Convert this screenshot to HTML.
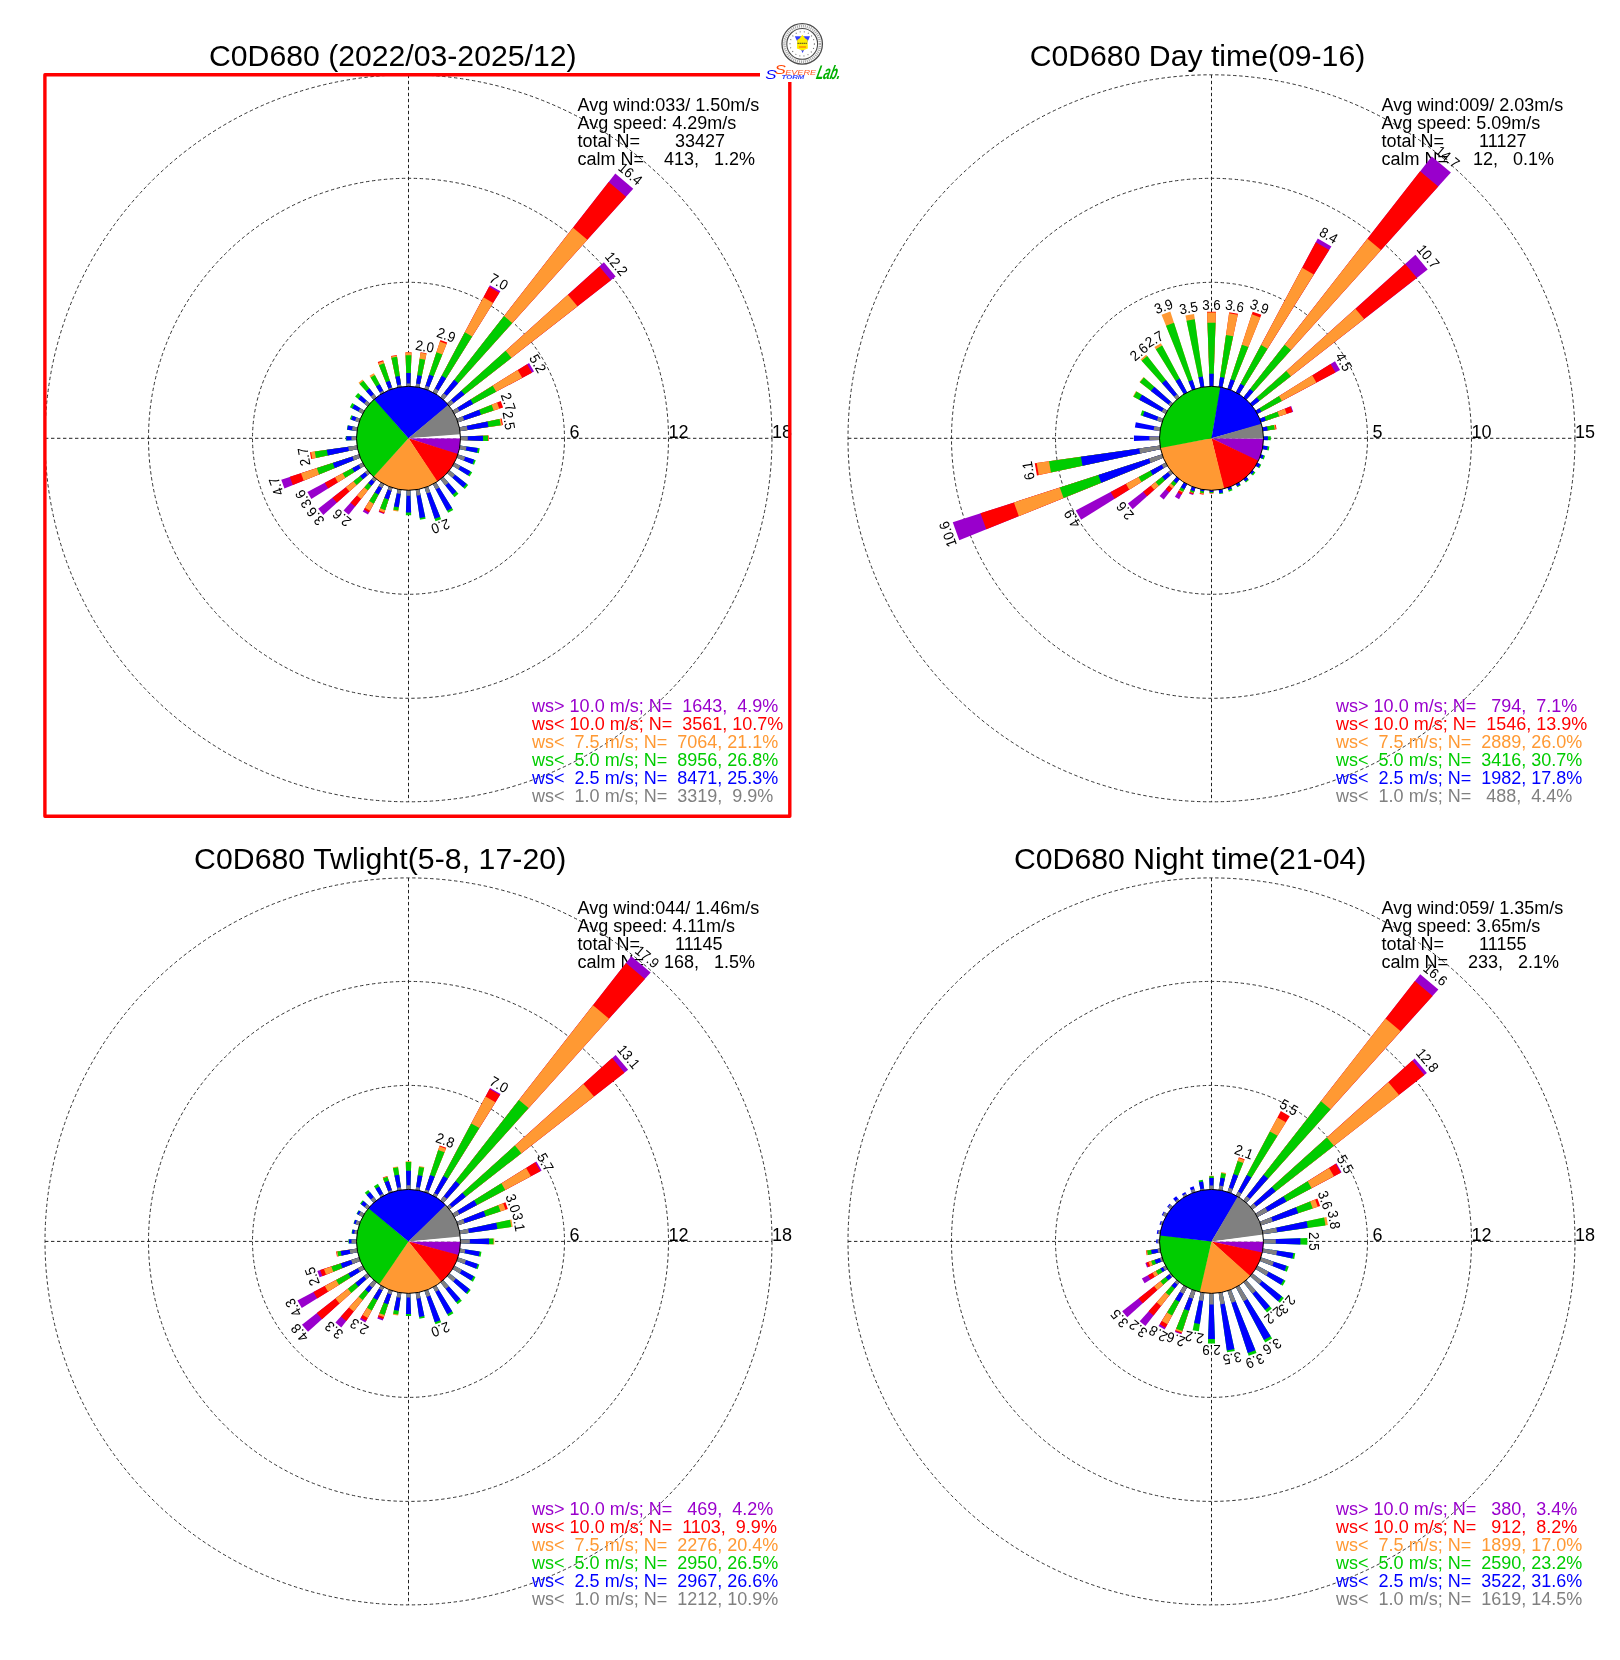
<!DOCTYPE html><html><head><meta charset="utf-8"><title>C0D680 wind rose</title><style>html,body{margin:0;padding:0;background:#fff;}svg{display:block;will-change:transform;}text{font-family:"Liberation Sans",Arial,Helvetica,sans-serif;white-space:pre;}</style></head><body>
<svg width="1620" height="1660" viewBox="0 0 1620 1660">
<rect width="1620" height="1660" fill="#fff"/>
<g><circle cx="408.5" cy="438.3" r="156" fill="none" stroke="#333" stroke-width="1" stroke-dasharray="3.4 2.6"/>
<circle cx="408.5" cy="438.3" r="260" fill="none" stroke="#333" stroke-width="1" stroke-dasharray="3.4 2.6"/>
<circle cx="408.5" cy="438.3" r="363.5" fill="none" stroke="#333" stroke-width="1" stroke-dasharray="3.4 2.6"/>
<path d="M45 438.3H772 M408.5 74.8V801.8" stroke="#222" stroke-width="1" stroke-dasharray="3.4 2.6" fill="none"/>
<text x="564.5" y="437.8" font-size="18"> 6</text>
<text x="668.5" y="437.8" font-size="18">12</text>
<text x="772" y="437.8" font-size="18">18</text>
<text x="577.5" y="110.8" font-size="18">Avg wind:033/ 1.50m/s</text>
<text x="577.5" y="128.7" font-size="18">Avg speed: 4.29m/s</text>
<text x="577.5" y="146.6" font-size="18">total N=       33427</text>
<text x="577.5" y="164.5" font-size="18">calm N=    413,   1.2%</text>
<path d="M406.7 386.83 405.49 352.21 411.51 352.21 410.3 386.83Z" fill="#ff0000"/>
<path d="M406.7 386.83 405.51 352.55 411.49 352.55 410.3 386.83Z" fill="#ff9933"/>
<path d="M406.7 386.83 405.6 355.25 411.4 355.25 410.3 386.83Z" fill="#00cc00"/>
<path d="M406.7 386.83 406.22 373.1 410.78 373.1 410.3 386.83Z" fill="#0000ff"/>
<path d="M406.7 386.83 406.58 383.44 410.42 383.44 410.3 386.83Z" fill="#808080"/>
<path d="M415.67 387.3 420.59 352.31 426.56 353.36 419.21 387.93Z" fill="#ff0000"/>
<path d="M415.67 387.3 420.51 352.82 426.45 353.87 419.21 387.93Z" fill="#ff9933"/>
<path d="M415.67 387.3 419.67 358.83 425.19 359.8 419.21 387.93Z" fill="#00cc00"/>
<path d="M415.67 387.3 417.38 375.13 421.76 375.91 419.21 387.93Z" fill="#0000ff"/>
<path d="M415.67 387.3 416.2 383.54 420 384.21 419.21 387.93Z" fill="#808080"/>
<path d="M424.41 389.32 440.42 340.05 447.2 342.52 427.79 390.55Z" fill="#ff0000"/>
<path d="M424.41 389.32 439.94 341.53 446.61 343.96 427.79 390.55Z" fill="#ff9933"/>
<path d="M424.41 389.32 436.46 352.25 442.39 354.41 427.79 390.55Z" fill="#00cc00"/>
<path d="M424.41 389.32 429.18 374.67 433.56 376.27 427.79 390.55Z" fill="#0000ff"/>
<path d="M424.41 389.32 425.59 385.71 429.21 387.03 427.79 390.55Z" fill="#808080"/>
<path d="M432.68 392.83 489.88 285.26 500.35 291.3 435.79 394.63Z" fill="#9900cc"/>
<path d="M432.68 392.83 489.06 286.79 499.43 292.77 435.79 394.63Z" fill="#ff0000"/>
<path d="M432.68 392.83 483.45 297.35 493.1 302.92 435.79 394.63Z" fill="#ff9933"/>
<path d="M432.68 392.83 464.89 332.24 472.15 336.43 435.79 394.63Z" fill="#00cc00"/>
<path d="M432.68 392.83 441.78 375.7 446.07 378.18 435.79 394.63Z" fill="#0000ff"/>
<path d="M432.68 392.83 435.03 388.41 438.44 390.38 435.79 394.63Z" fill="#808080"/>
<path d="M440.21 397.72 615.31 173.59 633.27 188.66 442.96 400.03Z" fill="#9900cc"/>
<path d="M440.21 397.72 608.7 182.06 626.08 196.65 442.96 400.03Z" fill="#ff0000"/>
<path d="M440.21 397.72 573.05 227.68 587.35 239.67 442.96 400.03Z" fill="#ff9933"/>
<path d="M440.21 397.72 504.01 316.05 512.3 323.01 442.96 400.03Z" fill="#00cc00"/>
<path d="M440.21 397.72 454.17 379.84 458.14 383.17 442.96 400.03Z" fill="#0000ff"/>
<path d="M440.21 397.72 443.72 393.23 446.77 395.79 442.96 400.03Z" fill="#808080"/>
<path d="M446.77 403.84 603.91 262.35 615.7 276.41 449.08 406.59Z" fill="#9900cc"/>
<path d="M446.77 403.84 599.4 266.41 610.92 280.15 449.08 406.59Z" fill="#ff0000"/>
<path d="M446.77 403.84 567.84 294.83 577.46 306.29 449.08 406.59Z" fill="#ff9933"/>
<path d="M446.77 403.84 505.62 350.85 511.49 357.84 449.08 406.59Z" fill="#00cc00"/>
<path d="M446.77 403.84 461.31 390.75 464.5 394.55 449.08 406.59Z" fill="#0000ff"/>
<path d="M446.77 403.84 451.14 399.91 453.71 402.98 449.08 406.59Z" fill="#808080"/>
<path d="M452.17 411.01 529.04 362.98 534 371.57 453.97 414.12Z" fill="#9900cc"/>
<path d="M452.17 411.01 527.12 364.17 532.01 372.63 453.97 414.12Z" fill="#ff0000"/>
<path d="M452.17 411.01 517.72 370.05 522.21 377.84 453.97 414.12Z" fill="#ff9933"/>
<path d="M452.17 411.01 492.73 385.67 496.19 391.67 453.97 414.12Z" fill="#00cc00"/>
<path d="M452.17 411.01 470.53 399.54 473.08 403.96 453.97 414.12Z" fill="#0000ff"/>
<path d="M452.17 411.01 457.45 407.71 459.46 411.2 453.97 414.12Z" fill="#808080"/>
<path d="M456.25 419.01 500.75 401.03 503.12 407.55 457.48 422.39Z" fill="#ff0000"/>
<path d="M456.25 419.01 497.05 402.52 499.33 408.79 457.48 422.39Z" fill="#ff9933"/>
<path d="M456.25 419.01 491.59 404.73 493.73 410.61 457.48 422.39Z" fill="#00cc00"/>
<path d="M456.25 419.01 479.21 409.73 481.03 414.73 457.48 422.39Z" fill="#0000ff"/>
<path d="M456.25 419.01 462.82 416.35 464.22 420.2 457.48 422.39Z" fill="#808080"/>
<path d="M458.87 427.59 501.75 418.48 502.91 425.03 459.5 431.13Z" fill="#ff0000"/>
<path d="M458.87 427.59 500.9 418.66 502.05 425.15 459.5 431.13Z" fill="#ff9933"/>
<path d="M458.87 427.59 499.55 418.95 500.67 425.35 459.5 431.13Z" fill="#00cc00"/>
<path d="M458.87 427.59 487.51 421.51 488.49 427.06 459.5 431.13Z" fill="#0000ff"/>
<path d="M458.87 427.59 466.82 425.9 467.55 430 459.5 431.13Z" fill="#808080"/>
<path d="M459.97 436.5 488.7 435.5 488.7 441.1 459.97 440.1Z" fill="#ff0000"/>
<path d="M459.97 436.5 488.36 435.51 488.36 441.09 459.97 440.1Z" fill="#ff9933"/>
<path d="M459.97 436.5 488.01 435.52 488.01 441.08 459.97 440.1Z" fill="#00cc00"/>
<path d="M459.97 436.5 482.99 435.7 482.99 440.9 459.97 440.1Z" fill="#0000ff"/>
<path d="M459.97 436.5 467.74 436.23 467.74 440.37 459.97 440.1Z" fill="#808080"/>
<path d="M459.5 445.47 479.73 448.31 478.86 453.26 458.87 449.01Z" fill="#00cc00"/>
<path d="M459.5 445.47 477.85 448.05 477 452.86 458.87 449.01Z" fill="#0000ff"/>
<path d="M459.5 445.47 466.52 446.45 465.81 450.48 458.87 449.01Z" fill="#808080"/>
<path d="M457.48 454.21 475.76 460.15 474.07 464.79 456.25 457.59Z" fill="#00cc00"/>
<path d="M457.48 454.21 474.11 459.62 472.46 464.14 456.25 457.59Z" fill="#0000ff"/>
<path d="M457.48 454.21 465.21 456.73 463.78 460.64 456.25 457.59Z" fill="#808080"/>
<path d="M453.97 462.48 472.17 472.15 469.65 476.51 452.17 465.59Z" fill="#00cc00"/>
<path d="M453.97 462.48 470.64 471.34 468.18 475.59 452.17 465.59Z" fill="#0000ff"/>
<path d="M453.97 462.48 460.38 465.89 458.33 469.44 452.17 465.59Z" fill="#808080"/>
<path d="M449.08 470.01 468.19 484.93 464.79 488.98 446.77 472.76Z" fill="#00cc00"/>
<path d="M449.08 470.01 466.55 483.65 463.25 487.59 446.77 472.76Z" fill="#0000ff"/>
<path d="M449.08 470.01 455.08 474.69 452.42 477.85 446.77 472.76Z" fill="#808080"/>
<path d="M442.96 476.57 458.49 493.82 454.49 497.17 440.21 478.88Z" fill="#00cc00"/>
<path d="M442.96 476.57 456.4 491.5 452.57 494.71 440.21 478.88Z" fill="#0000ff"/>
<path d="M442.96 476.57 448.51 482.74 445.32 485.42 440.21 478.88Z" fill="#808080"/>
<path d="M435.79 481.97 453.23 509.89 448.13 512.83 432.68 483.77Z" fill="#00cc00"/>
<path d="M435.79 481.97 452.04 507.98 447.07 510.84 432.68 483.77Z" fill="#0000ff"/>
<path d="M435.79 481.97 439.27 487.54 435.76 489.57 432.68 483.77Z" fill="#808080"/>
<path d="M427.79 486.05 441.16 519.14 435.44 521.22 424.41 487.28Z" fill="#00cc00"/>
<path d="M427.79 486.05 440.2 516.76 434.65 518.78 424.41 487.28Z" fill="#0000ff"/>
<path d="M427.79 486.05 430.28 492.22 426.47 493.61 424.41 487.28Z" fill="#808080"/>
<path d="M419.21 488.67 425.62 518.83 419.96 519.83 415.67 489.3Z" fill="#00cc00"/>
<path d="M419.21 488.67 425.22 516.97 419.69 517.94 415.67 489.3Z" fill="#0000ff"/>
<path d="M419.21 488.67 420.54 494.93 416.56 495.63 415.67 489.3Z" fill="#808080"/>
<path d="M410.3 489.77 411.19 515.21 405.81 515.21 406.7 489.77Z" fill="#00cc00"/>
<path d="M410.3 489.77 411.09 512.44 405.91 512.44 406.7 489.77Z" fill="#0000ff"/>
<path d="M410.3 489.77 410.51 495.81 406.49 495.81 406.7 489.77Z" fill="#808080"/>
<path d="M401.33 489.3 398.2 511.59 393.11 510.7 397.79 488.67Z" fill="#ff9933"/>
<path d="M401.33 489.3 398.34 510.56 393.33 509.68 397.79 488.67Z" fill="#00cc00"/>
<path d="M401.33 489.3 398.8 507.3 394.01 506.46 397.79 488.67Z" fill="#0000ff"/>
<path d="M401.33 489.3 400.68 493.91 396.82 493.23 397.79 488.67Z" fill="#808080"/>
<path d="M392.59 487.28 383.91 513.97 378.7 512.07 389.21 486.05Z" fill="#9900cc"/>
<path d="M392.59 487.28 384.08 513.47 378.89 511.58 389.21 486.05Z" fill="#ff0000"/>
<path d="M392.59 487.28 384.4 512.48 379.28 510.62 389.21 486.05Z" fill="#ff9933"/>
<path d="M392.59 487.28 385.15 510.17 380.19 508.37 389.21 486.05Z" fill="#00cc00"/>
<path d="M392.59 487.28 388.63 499.46 384.41 497.92 389.21 486.05Z" fill="#0000ff"/>
<path d="M392.59 487.28 391.41 490.89 387.79 489.57 389.21 486.05Z" fill="#808080"/>
<path d="M384.32 483.77 367.98 514.52 362.76 511.5 381.21 481.97Z" fill="#9900cc"/>
<path d="M384.32 483.77 369.03 512.53 363.95 509.59 381.21 481.97Z" fill="#ff0000"/>
<path d="M384.32 483.77 370.01 510.69 365.05 507.83 381.21 481.97Z" fill="#ff9933"/>
<path d="M384.32 483.77 373.75 503.65 369.28 501.07 381.21 481.97Z" fill="#00cc00"/>
<path d="M384.32 483.77 378.55 494.62 374.7 492.39 381.21 481.97Z" fill="#0000ff"/>
<path d="M384.32 483.77 382.05 488.04 378.65 486.07 381.21 481.97Z" fill="#808080"/>
<path d="M376.79 478.88 348.74 514.79 343.55 510.43 374.04 476.57Z" fill="#9900cc"/>
<path d="M376.79 478.88 355.14 506.59 350.51 502.71 374.04 476.57Z" fill="#ff0000"/>
<path d="M376.79 478.88 361.12 498.95 357 495.49 374.04 476.57Z" fill="#ff9933"/>
<path d="M376.79 478.88 367.84 490.34 364.31 487.38 374.04 476.57Z" fill="#00cc00"/>
<path d="M376.79 478.88 371.47 485.7 368.25 483 374.04 476.57Z" fill="#0000ff"/>
<path d="M376.79 478.88 374.46 481.87 371.5 479.39 374.04 476.57Z" fill="#808080"/>
<path d="M370.23 472.76 323.36 514.96 318.21 508.84 367.92 470.01Z" fill="#9900cc"/>
<path d="M370.23 472.76 336.88 502.79 332.56 497.63 367.92 470.01Z" fill="#ff0000"/>
<path d="M370.23 472.76 349.5 491.42 345.94 487.18 367.92 470.01Z" fill="#ff9933"/>
<path d="M370.23 472.76 356.59 485.04 353.45 481.31 367.92 470.01Z" fill="#00cc00"/>
<path d="M370.23 472.76 362.9 479.36 360.15 476.08 367.92 470.01Z" fill="#0000ff"/>
<path d="M370.23 472.76 367.41 475.3 364.93 472.34 367.92 470.01Z" fill="#808080"/>
<path d="M364.83 465.59 311.34 499.01 307.34 492.09 363.03 462.48Z" fill="#9900cc"/>
<path d="M364.83 465.59 328.09 488.54 324.78 482.81 363.03 462.48Z" fill="#ff0000"/>
<path d="M364.83 465.59 337.94 482.39 335.04 477.36 363.03 462.48Z" fill="#ff9933"/>
<path d="M364.83 465.59 345.29 477.8 342.69 473.29 363.03 462.48Z" fill="#00cc00"/>
<path d="M364.83 465.59 354.41 472.1 352.18 468.25 363.03 462.48Z" fill="#0000ff"/>
<path d="M364.83 465.59 360.73 468.15 358.76 464.75 363.03 462.48Z" fill="#808080"/>
<path d="M360.75 457.59 284.43 488.43 281.24 479.65 359.52 454.21Z" fill="#9900cc"/>
<path d="M360.75 457.59 292.79 485.05 289.81 476.87 359.52 454.21Z" fill="#ff0000"/>
<path d="M360.75 457.59 303.72 480.64 301.02 473.22 359.52 454.21Z" fill="#ff9933"/>
<path d="M360.75 457.59 319.14 474.4 316.84 468.08 359.52 454.21Z" fill="#00cc00"/>
<path d="M360.75 457.59 334.73 468.1 332.83 462.89 359.52 454.21Z" fill="#0000ff"/>
<path d="M360.75 457.59 353.86 460.38 352.45 456.51 359.52 454.21Z" fill="#808080"/>
<path d="M358.13 449.01 311.18 458.99 309.97 452.15 357.5 445.47Z" fill="#ff0000"/>
<path d="M358.13 449.01 312.2 458.77 311 452 357.5 445.47Z" fill="#ff9933"/>
<path d="M358.13 449.01 315.93 457.98 314.78 451.47 357.5 445.47Z" fill="#00cc00"/>
<path d="M358.13 449.01 327.8 455.45 326.8 449.78 357.5 445.47Z" fill="#0000ff"/>
<path d="M358.13 449.01 348.99 450.95 348.25 446.77 357.5 445.47Z" fill="#808080"/>
<path d="M357.03 440.1 345.79 440.49 345.79 436.11 357.03 436.5Z" fill="#00cc00"/>
<path d="M357.03 440.1 346.31 440.47 346.31 436.13 357.03 436.5Z" fill="#0000ff"/>
<path d="M357.03 440.1 351.51 440.29 351.51 436.31 357.03 436.5Z" fill="#808080"/>
<path d="M357.5 431.13 346.88 429.64 347.63 425.36 358.13 427.59Z" fill="#00cc00"/>
<path d="M357.5 431.13 347.22 429.69 347.97 425.43 358.13 427.59Z" fill="#0000ff"/>
<path d="M357.5 431.13 352.03 430.36 352.72 426.44 358.13 427.59Z" fill="#808080"/>
<path d="M359.52 422.39 349.81 419.23 351.29 415.18 360.75 419.01Z" fill="#00cc00"/>
<path d="M359.52 422.39 351.13 419.66 352.57 415.7 360.75 419.01Z" fill="#0000ff"/>
<path d="M359.52 422.39 355.09 420.95 356.43 417.26 360.75 419.01Z" fill="#808080"/>
<path d="M363.03 414.12 349.88 407.13 352.2 403.12 364.83 411.01Z" fill="#00cc00"/>
<path d="M363.03 414.12 352.18 408.35 354.41 404.5 364.83 411.01Z" fill="#0000ff"/>
<path d="M363.03 414.12 358.3 411.61 360.29 408.17 364.83 411.01Z" fill="#808080"/>
<path d="M367.92 406.59 355.09 396.57 358.13 392.95 370.23 403.84Z" fill="#00cc00"/>
<path d="M367.92 406.59 358.24 399.03 361.1 395.62 370.23 403.84Z" fill="#0000ff"/>
<path d="M367.92 406.59 364.11 403.62 366.64 400.61 370.23 403.84Z" fill="#808080"/>
<path d="M374.04 400.03 358.51 382.78 362.51 379.43 376.79 397.72Z" fill="#ff9933"/>
<path d="M374.04 400.03 359.56 383.94 363.47 380.66 376.79 397.72Z" fill="#00cc00"/>
<path d="M374.04 400.03 366.05 391.15 369.44 388.31 376.79 397.72Z" fill="#0000ff"/>
<path d="M374.04 400.03 370.92 396.56 373.92 394.05 376.79 397.72Z" fill="#808080"/>
<path d="M381.21 394.63 369.46 375.83 373.92 373.26 384.32 392.83Z" fill="#ff9933"/>
<path d="M381.21 394.63 370.56 377.59 374.89 375.09 384.32 392.83Z" fill="#00cc00"/>
<path d="M381.21 394.63 376.08 386.41 379.77 384.28 384.32 392.83Z" fill="#0000ff"/>
<path d="M381.21 394.63 379.84 392.44 383.11 390.55 384.32 392.83Z" fill="#808080"/>
<path d="M389.21 390.55 377.72 362.12 383.11 360.16 392.59 389.32Z" fill="#ff0000"/>
<path d="M389.21 390.55 378.11 363.09 383.43 361.15 392.59 389.32Z" fill="#ff9933"/>
<path d="M389.21 390.55 378.96 365.18 384.13 363.29 392.59 389.32Z" fill="#00cc00"/>
<path d="M389.21 390.55 385.84 382.21 389.81 380.77 392.59 389.32Z" fill="#0000ff"/>
<path d="M389.21 390.55 388.44 388.64 391.95 387.36 392.59 389.32Z" fill="#808080"/>
<path d="M397.79 387.93 390.99 355.9 396.78 354.88 401.33 387.3Z" fill="#ff0000"/>
<path d="M397.79 387.93 391.13 356.58 396.87 355.57 401.33 387.3Z" fill="#ff9933"/>
<path d="M397.79 387.93 391.38 357.77 397.04 356.77 401.33 387.3Z" fill="#00cc00"/>
<path d="M397.79 387.93 395.42 376.75 399.74 375.99 401.33 387.3Z" fill="#0000ff"/>
<path d="M397.79 387.93 397.22 385.23 400.95 384.57 401.33 387.3Z" fill="#808080"/>
<path d="M408.5 438.3L460.5 438.3A52 52 0 0 1 457.81 454.8Z" fill="#9900cc"/>
<path d="M408.5 438.3L458.04 454.11A52 52 0 0 1 436.94 481.83Z" fill="#ff0000"/>
<path d="M408.5 438.3L437.54 481.43A52 52 0 0 1 373.09 476.38Z" fill="#ff9933"/>
<path d="M408.5 438.3L373.62 476.87A52 52 0 0 1 374.64 398.83Z" fill="#00cc00"/>
<path d="M408.5 438.3L374.1 399.31A52 52 0 0 1 448.69 405.3Z" fill="#0000ff"/>
<path d="M408.5 438.3L448.22 404.74A52 52 0 0 1 460.39 434.99Z" fill="#808080"/>
<path d="M408.5 438.3L460.34 434.27A52 52 0 0 1 460.5 438.3Z" fill="#ffffff"/>
<circle cx="408.5" cy="438.3" r="52" fill="none" stroke="#000" stroke-width="1"/>
<text transform="translate(423.85 351.25) rotate(10) scale(0.93 1)" text-anchor="middle" font-size="14.4">2.0</text>
<text transform="translate(444.43 339.59) rotate(20) scale(0.93 1)" text-anchor="middle" font-size="14.4">2.9</text>
<text transform="translate(496.42 286.02) rotate(30) scale(0.93 1)" text-anchor="middle" font-size="14.4">7.0</text>
<text transform="translate(627.19 177.68) rotate(40) scale(0.93 1)" text-anchor="middle" font-size="14.4">16.4</text>
<text transform="translate(612.6 267.04) rotate(50) scale(0.93 1)" text-anchor="middle" font-size="14.4">12.2</text>
<text transform="translate(533.46 366.15) rotate(60) scale(0.93 1)" text-anchor="middle" font-size="14.4">5.2</text>
<text transform="translate(503.59 403.69) rotate(70) scale(0.93 1)" text-anchor="middle" font-size="14.4">2.7</text>
<text transform="translate(504.01 421.46) rotate(80) scale(0.93 1)" text-anchor="middle" font-size="14.4">2.5</text>
<text transform="translate(438.85 521.69) rotate(160) scale(0.93 1)" text-anchor="middle" font-size="14.4">2.0</text>
<text transform="translate(345.03 513.93) rotate(220) scale(0.93 1)" text-anchor="middle" font-size="14.4">2.6</text>
<text transform="translate(319.31 513.14) rotate(230) scale(0.93 1)" text-anchor="middle" font-size="14.4">3.6</text>
<text transform="translate(307.67 496.52) rotate(240) scale(0.93 1)" text-anchor="middle" font-size="14.4">3.6</text>
<text transform="translate(280.81 484.78) rotate(250) scale(0.93 1)" text-anchor="middle" font-size="14.4">4.7</text>
<text transform="translate(308.85 455.87) rotate(260) scale(0.93 1)" text-anchor="middle" font-size="14.4">2.7</text>
<text x="532.1" y="711.6" font-size="18" fill="#9900cc">ws&gt; 10.0 m/s; N=  1643,  4.9%</text>
<text x="532.1" y="729.58" font-size="18" fill="#ff0000">ws&lt; 10.0 m/s; N=  3561, 10.7%</text>
<text x="532.1" y="747.56" font-size="18" fill="#ff9933">ws&lt;  7.5 m/s; N=  7064, 21.1%</text>
<text x="532.1" y="765.54" font-size="18" fill="#00cc00">ws&lt;  5.0 m/s; N=  8956, 26.8%</text>
<text x="532.1" y="783.52" font-size="18" fill="#0000ff">ws&lt;  2.5 m/s; N=  8471, 25.3%</text>
<text x="532.1" y="801.5" font-size="18" fill="#808080">ws&lt;  1.0 m/s; N=  3319,  9.9%</text>
<text x="209" y="65.8" font-size="30.2">C0D680 (2022/03-2025/12)</text></g>
<g><circle cx="1211.5" cy="438.3" r="156" fill="none" stroke="#333" stroke-width="1" stroke-dasharray="3.4 2.6"/>
<circle cx="1211.5" cy="438.3" r="260" fill="none" stroke="#333" stroke-width="1" stroke-dasharray="3.4 2.6"/>
<circle cx="1211.5" cy="438.3" r="363.5" fill="none" stroke="#333" stroke-width="1" stroke-dasharray="3.4 2.6"/>
<path d="M848 438.3H1575 M1211.5 74.8V801.8" stroke="#222" stroke-width="1" stroke-dasharray="3.4 2.6" fill="none"/>
<text x="1367.5" y="437.8" font-size="18"> 5</text>
<text x="1471.5" y="437.8" font-size="18">10</text>
<text x="1575" y="437.8" font-size="18">15</text>
<text x="1381.5" y="110.8" font-size="18">Avg wind:009/ 2.03m/s</text>
<text x="1381.5" y="128.7" font-size="18">Avg speed: 5.09m/s</text>
<text x="1381.5" y="146.6" font-size="18">total N=       11127</text>
<text x="1381.5" y="164.5" font-size="18">calm N=     12,   0.1%</text>
<path d="M1209.7 386.83 1207.08 311.71 1215.92 311.71 1213.3 386.83Z" fill="#ff0000"/>
<path d="M1209.7 386.83 1207.11 312.54 1215.89 312.54 1213.3 386.83Z" fill="#ff9933"/>
<path d="M1209.7 386.83 1207.46 322.72 1215.54 322.72 1213.3 386.83Z" fill="#00cc00"/>
<path d="M1209.7 386.83 1209.24 373.65 1213.76 373.65 1213.3 386.83Z" fill="#0000ff"/>
<path d="M1218.67 387.3 1229.22 312.24 1237.97 313.79 1222.21 387.93Z" fill="#ff0000"/>
<path d="M1218.67 387.3 1229.07 313.27 1237.75 314.8 1222.21 387.93Z" fill="#ff9933"/>
<path d="M1218.67 387.3 1226 335.11 1233.17 336.37 1222.21 387.93Z" fill="#00cc00"/>
<path d="M1218.67 387.3 1220.13 376.92 1224.39 377.67 1222.21 387.93Z" fill="#0000ff"/>
<path d="M1227.41 389.32 1252.64 311.7 1261.37 314.87 1230.79 390.55Z" fill="#ff0000"/>
<path d="M1227.41 389.32 1251.8 314.27 1260.35 317.38 1230.79 390.55Z" fill="#ff9933"/>
<path d="M1227.41 389.32 1241.9 344.73 1248.36 347.08 1230.79 390.55Z" fill="#00cc00"/>
<path d="M1227.41 389.32 1230.65 379.35 1234.72 380.83 1230.79 390.55Z" fill="#0000ff"/>
<path d="M1235.68 392.83 1317.74 238.49 1331.42 246.38 1238.79 394.63Z" fill="#9900cc"/>
<path d="M1235.68 392.83 1315.79 242.16 1329.22 249.91 1238.79 394.63Z" fill="#ff0000"/>
<path d="M1235.68 392.83 1302.12 267.87 1313.79 274.61 1238.79 394.63Z" fill="#ff9933"/>
<path d="M1235.68 392.83 1261.11 345 1267.49 348.69 1238.79 394.63Z" fill="#00cc00"/>
<path d="M1235.68 392.83 1240.5 383.76 1244.24 385.91 1238.79 394.63Z" fill="#0000ff"/>
<path d="M1243.21 397.72 1431.76 156.38 1450.89 172.43 1245.96 400.03Z" fill="#9900cc"/>
<path d="M1243.21 397.72 1420.11 171.3 1438.22 186.5 1245.96 400.03Z" fill="#ff0000"/>
<path d="M1243.21 397.72 1367.47 238.66 1381.02 250.03 1245.96 400.03Z" fill="#ff9933"/>
<path d="M1243.21 397.72 1284.62 344.71 1290.97 350.04 1245.96 400.03Z" fill="#00cc00"/>
<path d="M1243.21 397.72 1250.05 388.96 1253.39 391.77 1245.96 400.03Z" fill="#0000ff"/>
<path d="M1249.77 403.84 1415.38 254.72 1427.69 269.39 1252.08 406.59Z" fill="#9900cc"/>
<path d="M1249.77 403.84 1405.18 263.91 1416.87 277.84 1252.08 406.59Z" fill="#ff0000"/>
<path d="M1249.77 403.84 1355.41 308.72 1364.1 319.08 1252.08 406.59Z" fill="#ff9933"/>
<path d="M1249.77 403.84 1286.31 370.94 1290.83 376.32 1252.08 406.59Z" fill="#00cc00"/>
<path d="M1249.77 403.84 1256.79 397.52 1259.52 400.78 1252.08 406.59Z" fill="#0000ff"/>
<path d="M1255.17 411.01 1334.98 361.14 1340.06 369.94 1256.97 414.12Z" fill="#9900cc"/>
<path d="M1255.17 411.01 1330.57 363.9 1335.47 372.39 1256.97 414.12Z" fill="#ff0000"/>
<path d="M1255.17 411.01 1312.22 375.36 1316.37 382.54 1256.97 414.12Z" fill="#ff9933"/>
<path d="M1255.17 411.01 1279.06 396.08 1281.84 400.9 1256.97 414.12Z" fill="#00cc00"/>
<path d="M1255.17 411.01 1259.48 408.32 1261.45 411.74 1256.97 414.12Z" fill="#0000ff"/>
<path d="M1259.25 419.01 1291.15 406.12 1293.2 411.75 1260.48 422.39Z" fill="#9900cc"/>
<path d="M1259.25 419.01 1290.38 406.43 1292.41 412.01 1260.48 422.39Z" fill="#ff0000"/>
<path d="M1259.25 419.01 1284.78 408.69 1286.67 413.88 1260.48 422.39Z" fill="#ff9933"/>
<path d="M1259.25 419.01 1277.46 411.65 1279.15 416.32 1260.48 422.39Z" fill="#00cc00"/>
<path d="M1259.25 419.01 1264.53 416.87 1265.9 420.62 1260.48 422.39Z" fill="#0000ff"/>
<path d="M1261.87 427.59 1275.79 424.63 1276.59 429.15 1262.5 431.13Z" fill="#ff0000"/>
<path d="M1261.87 427.59 1274.98 424.81 1275.76 429.27 1262.5 431.13Z" fill="#ff9933"/>
<path d="M1261.87 427.59 1273.96 425.02 1274.73 429.41 1262.5 431.13Z" fill="#00cc00"/>
<path d="M1261.87 427.59 1267.04 426.49 1267.73 430.4 1262.5 431.13Z" fill="#0000ff"/>
<path d="M1262.97 436.5 1270.74 436.23 1270.74 440.37 1262.97 440.1Z" fill="#00cc00"/>
<path d="M1262.97 436.5 1267.83 436.33 1267.83 440.27 1262.97 440.1Z" fill="#0000ff"/>
<path d="M1262.5 445.47 1269.38 446.43 1268.67 450.45 1261.87 449.01Z" fill="#00cc00"/>
<path d="M1262.5 445.47 1267.73 446.2 1267.04 450.11 1261.87 449.01Z" fill="#0000ff"/>
<path d="M1260.48 454.21 1265.11 455.72 1263.76 459.42 1259.25 457.59Z" fill="#00cc00"/>
<path d="M1260.48 454.21 1263.72 455.27 1262.41 458.87 1259.25 457.59Z" fill="#0000ff"/>
<path d="M1256.97 462.48 1261.27 464.76 1259.3 468.17 1255.17 465.59Z" fill="#00cc00"/>
<path d="M1256.97 462.48 1260.35 464.27 1258.42 467.62 1255.17 465.59Z" fill="#0000ff"/>
<path d="M1252.08 470.01 1255.43 472.62 1252.93 475.6 1249.77 472.76Z" fill="#00cc00"/>
<path d="M1252.08 470.01 1254.12 471.59 1251.69 474.49 1249.77 472.76Z" fill="#0000ff"/>
<path d="M1245.96 476.57 1248.94 479.88 1245.95 482.39 1243.21 478.88Z" fill="#00cc00"/>
<path d="M1245.96 476.57 1248.24 479.11 1245.31 481.57 1243.21 478.88Z" fill="#0000ff"/>
<path d="M1238.79 481.97 1240.82 485.22 1237.47 487.15 1235.68 483.77Z" fill="#00cc00"/>
<path d="M1238.79 481.97 1240.38 484.52 1237.08 486.42 1235.68 483.77Z" fill="#0000ff"/>
<path d="M1230.79 486.05 1232.54 490.37 1228.85 491.71 1227.41 487.28Z" fill="#00cc00"/>
<path d="M1230.79 486.05 1231.84 488.63 1228.28 489.93 1227.41 487.28Z" fill="#0000ff"/>
<path d="M1222.21 488.67 1223.22 493.44 1219.34 494.12 1218.67 489.3Z" fill="#00cc00"/>
<path d="M1222.21 488.67 1223.05 492.62 1219.23 493.3 1218.67 489.3Z" fill="#0000ff"/>
<path d="M1213.3 489.77 1213.43 493.59 1209.57 493.59 1209.7 489.77Z" fill="#ff0000"/>
<path d="M1213.3 489.77 1213.42 493.18 1209.58 493.18 1209.7 489.77Z" fill="#ff9933"/>
<path d="M1213.3 489.77 1213.41 492.97 1209.59 492.97 1209.7 489.77Z" fill="#00cc00"/>
<path d="M1213.3 489.77 1213.37 491.93 1209.63 491.93 1209.7 489.77Z" fill="#0000ff"/>
<path d="M1204.33 489.3 1203.57 494.74 1199.65 494.05 1200.79 488.67Z" fill="#ff0000"/>
<path d="M1204.33 489.3 1203.68 493.91 1199.82 493.23 1200.79 488.67Z" fill="#ff9933"/>
<path d="M1204.33 489.3 1203.77 493.3 1199.95 492.62 1200.79 488.67Z" fill="#00cc00"/>
<path d="M1204.33 489.3 1204.03 491.44 1200.34 490.79 1200.79 488.67Z" fill="#0000ff"/>
<path d="M1195.59 487.28 1193.05 495.07 1189.14 493.65 1192.21 486.05Z" fill="#9900cc"/>
<path d="M1195.59 487.28 1193.31 494.28 1189.45 492.88 1192.21 486.05Z" fill="#ff0000"/>
<path d="M1195.59 487.28 1193.63 493.29 1189.84 491.91 1192.21 486.05Z" fill="#ff9933"/>
<path d="M1195.59 487.28 1193.76 492.9 1189.99 491.53 1192.21 486.05Z" fill="#00cc00"/>
<path d="M1195.59 487.28 1194.27 491.32 1190.62 489.98 1192.21 486.05Z" fill="#0000ff"/>
<path d="M1187.32 483.77 1179.08 499.27 1174.91 496.86 1184.21 481.97Z" fill="#9900cc"/>
<path d="M1187.32 483.77 1181.52 494.68 1177.66 492.45 1184.21 481.97Z" fill="#ff0000"/>
<path d="M1187.32 483.77 1182.6 492.66 1178.87 490.51 1184.21 481.97Z" fill="#ff9933"/>
<path d="M1187.32 483.77 1183.08 491.74 1179.43 489.63 1184.21 481.97Z" fill="#00cc00"/>
<path d="M1187.32 483.77 1184.35 489.36 1180.86 487.34 1184.21 481.97Z" fill="#0000ff"/>
<path d="M1179.79 478.88 1163.73 499.44 1159.59 495.96 1177.04 476.57Z" fill="#9900cc"/>
<path d="M1179.79 478.88 1169.37 492.23 1165.71 489.15 1177.04 476.57Z" fill="#ff0000"/>
<path d="M1179.79 478.88 1172.31 488.46 1168.91 485.6 1177.04 476.57Z" fill="#ff9933"/>
<path d="M1179.79 478.88 1174.11 486.16 1170.86 483.44 1177.04 476.57Z" fill="#00cc00"/>
<path d="M1179.79 478.88 1176.41 483.21 1173.36 480.65 1177.04 476.57Z" fill="#0000ff"/>
<path d="M1173.23 472.76 1132.67 509.28 1127.91 503.61 1170.92 470.01Z" fill="#9900cc"/>
<path d="M1173.23 472.76 1147.04 496.34 1143.15 491.7 1170.92 470.01Z" fill="#ff0000"/>
<path d="M1173.23 472.76 1154.31 489.8 1150.85 485.68 1170.92 470.01Z" fill="#ff9933"/>
<path d="M1173.23 472.76 1158.79 485.76 1155.61 481.97 1170.92 470.01Z" fill="#00cc00"/>
<path d="M1173.23 472.76 1164.97 480.19 1162.16 476.85 1170.92 470.01Z" fill="#0000ff"/>
<path d="M1173.23 472.76 1170.38 475.32 1167.9 472.36 1170.92 470.01Z" fill="#808080"/>
<path d="M1167.83 465.59 1081.14 519.75 1075.78 510.46 1166.03 462.48Z" fill="#9900cc"/>
<path d="M1167.83 465.59 1114.66 498.81 1110.67 491.91 1166.03 462.48Z" fill="#ff0000"/>
<path d="M1167.83 465.59 1129.3 489.66 1125.92 483.8 1166.03 462.48Z" fill="#ff9933"/>
<path d="M1167.83 465.59 1141.47 482.06 1138.59 477.07 1166.03 462.48Z" fill="#00cc00"/>
<path d="M1167.83 465.59 1152.76 475 1150.34 470.82 1166.03 462.48Z" fill="#0000ff"/>
<path d="M1167.83 465.59 1163.7 468.17 1161.73 464.76 1166.03 462.48Z" fill="#808080"/>
<path d="M1163.75 457.59 959.25 540.22 952.75 522.37 1162.52 454.21Z" fill="#9900cc"/>
<path d="M1163.75 457.59 986.25 529.31 980.45 513.37 1162.52 454.21Z" fill="#ff0000"/>
<path d="M1163.75 457.59 1018.84 516.14 1013.88 502.51 1162.52 454.21Z" fill="#ff9933"/>
<path d="M1163.75 457.59 1063.58 498.06 1059.77 487.6 1162.52 454.21Z" fill="#00cc00"/>
<path d="M1163.75 457.59 1101.19 482.87 1098.35 475.07 1162.52 454.21Z" fill="#0000ff"/>
<path d="M1163.75 457.59 1150.56 462.92 1148.99 458.61 1162.52 454.21Z" fill="#808080"/>
<path d="M1161.13 449.01 1036.94 475.4 1034.77 463.14 1160.5 445.47Z" fill="#ff0000"/>
<path d="M1161.13 449.01 1038.77 475.02 1036.63 462.88 1160.5 445.47Z" fill="#ff9933"/>
<path d="M1161.13 449.01 1050.97 472.42 1048.99 461.14 1160.5 445.47Z" fill="#00cc00"/>
<path d="M1161.13 449.01 1082.51 465.72 1080.91 456.65 1160.5 445.47Z" fill="#0000ff"/>
<path d="M1161.13 449.01 1140.09 453.48 1139.2 448.46 1160.5 445.47Z" fill="#808080"/>
<path d="M1160.03 440.1 1133.96 441.01 1133.96 435.59 1160.03 436.5Z" fill="#0000ff"/>
<path d="M1160.03 440.1 1149.35 440.47 1149.35 436.13 1160.03 436.5Z" fill="#808080"/>
<path d="M1160.5 431.13 1134.88 427.53 1135.81 422.21 1161.13 427.59Z" fill="#0000ff"/>
<path d="M1160.5 431.13 1153.62 430.17 1154.33 426.15 1161.13 427.59Z" fill="#808080"/>
<path d="M1162.52 422.39 1140.48 415.23 1142.27 410.33 1163.75 419.01Z" fill="#00cc00"/>
<path d="M1162.52 422.39 1142.86 416 1144.58 411.26 1163.75 419.01Z" fill="#0000ff"/>
<path d="M1162.52 422.39 1156.9 420.56 1158.27 416.79 1163.75 419.01Z" fill="#808080"/>
<path d="M1166.03 414.12 1132.9 396.51 1136 391.12 1167.83 411.01Z" fill="#ff9933"/>
<path d="M1166.03 414.12 1133.45 396.8 1136.53 391.46 1167.83 411.01Z" fill="#00cc00"/>
<path d="M1166.03 414.12 1139.14 399.83 1142 394.87 1167.83 411.01Z" fill="#0000ff"/>
<path d="M1166.03 414.12 1161.73 411.84 1163.7 408.43 1167.83 411.01Z" fill="#808080"/>
<path d="M1170.92 406.59 1139.38 381.95 1143.49 377.06 1173.23 403.84Z" fill="#ff9933"/>
<path d="M1170.92 406.59 1139.87 382.34 1143.95 377.48 1173.23 403.84Z" fill="#00cc00"/>
<path d="M1170.92 406.59 1150.85 390.92 1154.31 386.8 1173.23 403.84Z" fill="#0000ff"/>
<path d="M1170.92 406.59 1168.39 404.62 1170.85 401.7 1173.23 403.84Z" fill="#808080"/>
<path d="M1177.04 400.03 1140.52 359.47 1146.19 354.71 1179.79 397.72Z" fill="#ff9933"/>
<path d="M1177.04 400.03 1141.63 360.7 1147.22 356.02 1179.79 397.72Z" fill="#00cc00"/>
<path d="M1177.04 400.03 1161.95 383.27 1165.91 379.95 1179.79 397.72Z" fill="#0000ff"/>
<path d="M1177.04 400.03 1174.06 396.72 1177.05 394.21 1179.79 397.72Z" fill="#808080"/>
<path d="M1184.21 394.63 1154.4 346.93 1160.92 343.17 1187.32 392.83Z" fill="#ff9933"/>
<path d="M1184.21 394.63 1155.84 349.22 1162.19 345.56 1187.32 392.83Z" fill="#00cc00"/>
<path d="M1184.21 394.63 1175.68 380.97 1179.76 378.61 1187.32 392.83Z" fill="#0000ff"/>
<path d="M1192.21 390.55 1161.55 314.68 1170.3 311.5 1195.59 389.32Z" fill="#ff9933"/>
<path d="M1192.21 390.55 1166 325.67 1173.96 322.77 1195.59 389.32Z" fill="#00cc00"/>
<path d="M1192.21 390.55 1188.51 381.41 1192.54 379.94 1195.59 389.32Z" fill="#0000ff"/>
<path d="M1200.79 387.93 1185.42 315.62 1194.04 314.1 1204.33 387.3Z" fill="#ff9933"/>
<path d="M1200.79 387.93 1186.5 320.7 1194.77 319.25 1204.33 387.3Z" fill="#00cc00"/>
<path d="M1200.79 387.93 1198.53 377.26 1202.82 376.51 1204.33 387.3Z" fill="#0000ff"/>
<path d="M1211.5 438.3L1263.5 438.3A52 52 0 0 1 1258.04 461.49Z" fill="#9900cc"/>
<path d="M1211.5 438.3L1258.36 460.84A52 52 0 0 1 1223.63 488.86Z" fill="#ff0000"/>
<path d="M1211.5 438.3L1224.34 488.69A52 52 0 0 1 1160.29 447.35Z" fill="#ff9933"/>
<path d="M1211.5 438.3L1160.42 448.06A52 52 0 0 1 1220.97 387.17Z" fill="#00cc00"/>
<path d="M1211.5 438.3L1220.26 387.04A52 52 0 0 1 1261.64 424.51Z" fill="#0000ff"/>
<path d="M1211.5 438.3L1261.44 423.81A52 52 0 0 1 1263.5 438.67Z" fill="#808080"/>
<path d="M1211.5 438.3L1263.5 437.95A52 52 0 0 1 1263.5 438.3Z" fill="#ffffff"/>
<circle cx="1211.5" cy="438.3" r="52" fill="none" stroke="#000" stroke-width="1"/>
<text transform="translate(1211.5 309.63) rotate(0) scale(0.93 1)" text-anchor="middle" font-size="14.4">3.6</text>
<text transform="translate(1233.95 310.97) rotate(10) scale(0.93 1)" text-anchor="middle" font-size="14.4">3.6</text>
<text transform="translate(1257.74 311.27) rotate(20) scale(0.93 1)" text-anchor="middle" font-size="14.4">3.9</text>
<text transform="translate(1326.2 239.64) rotate(30) scale(0.93 1)" text-anchor="middle" font-size="14.4">8.4</text>
<text transform="translate(1444.38 160.77) rotate(40) scale(0.93 1)" text-anchor="middle" font-size="14.4">14.7</text>
<text transform="translate(1424.44 259.62) rotate(50) scale(0.93 1)" text-anchor="middle" font-size="14.4">10.7</text>
<text transform="translate(1339.5 364.4) rotate(60) scale(0.93 1)" text-anchor="middle" font-size="14.4">4.5</text>
<text transform="translate(1128.88 507.62) rotate(230) scale(0.93 1)" text-anchor="middle" font-size="14.4">2.6</text>
<text transform="translate(1076.4 516.3) rotate(240) scale(0.93 1)" text-anchor="middle" font-size="14.4">4.9</text>
<text transform="translate(952.47 532.58) rotate(250) scale(0.93 1)" text-anchor="middle" font-size="14.4">10.6</text>
<text transform="translate(1033.22 469.74) rotate(260) scale(0.93 1)" text-anchor="middle" font-size="14.4">6.1</text>
<text transform="translate(1142.18 355.68) rotate(320) scale(0.93 1)" text-anchor="middle" font-size="14.4">2.6</text>
<text transform="translate(1156.74 343.44) rotate(330) scale(0.93 1)" text-anchor="middle" font-size="14.4">2.7</text>
<text transform="translate(1165.19 311.07) rotate(340) scale(0.93 1)" text-anchor="middle" font-size="14.4">3.9</text>
<text transform="translate(1189.38 312.83) rotate(350) scale(0.93 1)" text-anchor="middle" font-size="14.4">3.5</text>
<text x="1336.1" y="711.6" font-size="18" fill="#9900cc">ws&gt; 10.0 m/s; N=   794,  7.1%</text>
<text x="1336.1" y="729.58" font-size="18" fill="#ff0000">ws&lt; 10.0 m/s; N=  1546, 13.9%</text>
<text x="1336.1" y="747.56" font-size="18" fill="#ff9933">ws&lt;  7.5 m/s; N=  2889, 26.0%</text>
<text x="1336.1" y="765.54" font-size="18" fill="#00cc00">ws&lt;  5.0 m/s; N=  3416, 30.7%</text>
<text x="1336.1" y="783.52" font-size="18" fill="#0000ff">ws&lt;  2.5 m/s; N=  1982, 17.8%</text>
<text x="1336.1" y="801.5" font-size="18" fill="#808080">ws&lt;  1.0 m/s; N=   488,  4.4%</text>
<text x="1029.7" y="65.8" font-size="30.2">C0D680 Day time(09-16)</text></g>
<g><circle cx="408.5" cy="1241.4" r="156" fill="none" stroke="#333" stroke-width="1" stroke-dasharray="3.4 2.6"/>
<circle cx="408.5" cy="1241.4" r="260" fill="none" stroke="#333" stroke-width="1" stroke-dasharray="3.4 2.6"/>
<circle cx="408.5" cy="1241.4" r="363.5" fill="none" stroke="#333" stroke-width="1" stroke-dasharray="3.4 2.6"/>
<path d="M45 1241.4H772 M408.5 877.9V1604.9" stroke="#222" stroke-width="1" stroke-dasharray="3.4 2.6" fill="none"/>
<text x="564.5" y="1240.9" font-size="18"> 6</text>
<text x="668.5" y="1240.9" font-size="18">12</text>
<text x="772" y="1240.9" font-size="18">18</text>
<text x="577.5" y="913.9" font-size="18">Avg wind:044/ 1.46m/s</text>
<text x="577.5" y="931.8" font-size="18">Avg speed: 4.11m/s</text>
<text x="577.5" y="949.7" font-size="18">total N=       11145</text>
<text x="577.5" y="967.6" font-size="18">calm N=    168,   1.5%</text>
<path d="M406.7 1189.93 405.7 1161.2 411.3 1161.2 410.3 1189.93Z" fill="#ff9933"/>
<path d="M406.7 1189.93 405.73 1162.06 411.27 1162.06 410.3 1189.93Z" fill="#00cc00"/>
<path d="M406.7 1189.93 406.03 1170.72 410.97 1170.72 410.3 1189.93Z" fill="#0000ff"/>
<path d="M406.7 1189.93 406.54 1185.27 410.46 1185.27 410.3 1189.93Z" fill="#808080"/>
<path d="M415.67 1190.4 419.09 1166.05 424.32 1166.97 419.21 1191.03Z" fill="#ff9933"/>
<path d="M415.67 1190.4 418.97 1166.91 424.14 1167.82 419.21 1191.03Z" fill="#00cc00"/>
<path d="M415.67 1190.4 417.79 1175.32 422.37 1176.12 419.21 1191.03Z" fill="#0000ff"/>
<path d="M415.67 1190.4 416.15 1186.99 419.92 1187.65 419.21 1191.03Z" fill="#808080"/>
<path d="M424.41 1192.42 439.67 1145.46 446.29 1147.87 427.79 1193.65Z" fill="#ff0000"/>
<path d="M424.41 1192.42 439.41 1146.28 445.97 1148.67 427.79 1193.65Z" fill="#ff9933"/>
<path d="M424.41 1192.42 438.17 1150.07 444.47 1152.37 427.79 1193.65Z" fill="#00cc00"/>
<path d="M424.41 1192.42 430.09 1174.97 434.67 1176.63 427.79 1193.65Z" fill="#0000ff"/>
<path d="M424.41 1192.42 425.37 1189.47 428.95 1190.78 427.79 1193.65Z" fill="#808080"/>
<path d="M432.68 1195.93 490.04 1088.05 500.54 1094.11 435.79 1197.73Z" fill="#9900cc"/>
<path d="M432.68 1195.93 489.55 1088.97 499.99 1094.99 435.79 1197.73Z" fill="#ff0000"/>
<path d="M432.68 1195.93 485.48 1096.62 495.39 1102.34 435.79 1197.73Z" fill="#ff9933"/>
<path d="M432.68 1195.93 471.24 1123.4 479.32 1128.07 435.79 1197.73Z" fill="#00cc00"/>
<path d="M432.68 1195.93 443.33 1175.9 447.81 1178.49 435.79 1197.73Z" fill="#0000ff"/>
<path d="M432.68 1195.93 434.3 1192.88 437.62 1194.8 435.79 1197.73Z" fill="#808080"/>
<path d="M440.21 1200.82 631.32 956.2 650.67 972.44 442.96 1203.13Z" fill="#9900cc"/>
<path d="M440.21 1200.82 625.98 963.03 644.87 978.88 442.96 1203.13Z" fill="#ff0000"/>
<path d="M440.21 1200.82 593.01 1005.24 609.03 1018.68 442.96 1203.13Z" fill="#ff9933"/>
<path d="M440.21 1200.82 518.95 1100.03 528.54 1108.08 442.96 1203.13Z" fill="#00cc00"/>
<path d="M440.21 1200.82 455.67 1181.03 459.76 1184.47 442.96 1203.13Z" fill="#0000ff"/>
<path d="M440.21 1200.82 443.82 1196.19 446.89 1198.76 442.96 1203.13Z" fill="#808080"/>
<path d="M446.77 1206.94 615.63 1054.9 628.13 1069.8 449.08 1209.69Z" fill="#9900cc"/>
<path d="M446.77 1206.94 612.15 1058.03 624.45 1072.68 449.08 1209.69Z" fill="#ff0000"/>
<path d="M446.77 1206.94 583.43 1083.9 593.99 1096.48 449.08 1209.69Z" fill="#ff9933"/>
<path d="M446.77 1206.94 514.9 1145.6 521.32 1153.25 449.08 1209.69Z" fill="#00cc00"/>
<path d="M446.77 1206.94 462.47 1192.8 465.73 1196.69 449.08 1209.69Z" fill="#0000ff"/>
<path d="M446.77 1206.94 449.59 1204.4 452.07 1207.36 449.08 1209.69Z" fill="#808080"/>
<path d="M452.17 1214.11 536.39 1161.49 541.65 1170.6 453.97 1217.22Z" fill="#9900cc"/>
<path d="M452.17 1214.11 535.21 1162.22 540.42 1171.25 453.97 1217.22Z" fill="#ff0000"/>
<path d="M452.17 1214.11 526.1 1167.92 530.94 1176.3 453.97 1217.22Z" fill="#ff9933"/>
<path d="M452.17 1214.11 501.4 1183.35 505.22 1189.97 453.97 1217.22Z" fill="#00cc00"/>
<path d="M452.17 1214.11 474.21 1200.34 476.91 1205.03 453.97 1217.22Z" fill="#0000ff"/>
<path d="M452.17 1214.11 457.45 1210.81 459.46 1214.3 453.97 1217.22Z" fill="#808080"/>
<path d="M456.25 1222.11 505.41 1202.25 507.9 1209.1 457.48 1225.49Z" fill="#ff0000"/>
<path d="M456.25 1222.11 503.18 1203.15 505.61 1209.85 457.48 1225.49Z" fill="#ff9933"/>
<path d="M456.25 1222.11 498.23 1205.15 500.54 1211.5 457.48 1225.49Z" fill="#00cc00"/>
<path d="M456.25 1222.11 483.7 1211.02 485.63 1216.34 457.48 1225.49Z" fill="#0000ff"/>
<path d="M456.25 1222.11 463.25 1219.28 464.66 1223.15 457.48 1225.49Z" fill="#808080"/>
<path d="M458.87 1230.69 511.41 1219.52 512.69 1226.76 459.5 1234.23Z" fill="#ff9933"/>
<path d="M458.87 1230.69 510.06 1219.81 511.32 1226.95 459.5 1234.23Z" fill="#00cc00"/>
<path d="M458.87 1230.69 496.32 1222.73 497.41 1228.9 459.5 1234.23Z" fill="#0000ff"/>
<path d="M458.87 1230.69 468.18 1228.71 468.92 1232.91 459.5 1234.23Z" fill="#808080"/>
<path d="M459.97 1239.6 494.25 1238.41 494.25 1244.39 459.97 1243.2Z" fill="#ff9933"/>
<path d="M459.97 1239.6 493.38 1238.44 493.38 1244.36 459.97 1243.2Z" fill="#00cc00"/>
<path d="M459.97 1239.6 489.05 1238.59 489.05 1244.21 459.97 1243.2Z" fill="#0000ff"/>
<path d="M459.97 1239.6 469.82 1239.26 469.82 1243.54 459.97 1243.2Z" fill="#808080"/>
<path d="M459.5 1248.57 481.45 1251.65 480.56 1256.72 458.87 1252.11Z" fill="#00cc00"/>
<path d="M459.5 1248.57 479.73 1251.41 478.86 1256.36 458.87 1252.11Z" fill="#0000ff"/>
<path d="M459.5 1248.57 465.31 1249.38 464.62 1253.33 458.87 1252.11Z" fill="#808080"/>
<path d="M457.48 1257.31 479.39 1264.43 477.61 1269.32 456.25 1260.69Z" fill="#00cc00"/>
<path d="M457.48 1257.31 477.9 1263.95 476.16 1268.74 456.25 1260.69Z" fill="#0000ff"/>
<path d="M457.48 1257.31 466.03 1260.09 464.59 1264.06 456.25 1260.69Z" fill="#808080"/>
<path d="M453.97 1265.58 475.53 1277.04 472.88 1281.63 452.17 1268.69Z" fill="#00cc00"/>
<path d="M453.97 1265.58 473.85 1276.15 471.27 1280.62 452.17 1268.69Z" fill="#0000ff"/>
<path d="M453.97 1265.58 461.91 1269.8 459.8 1273.46 452.17 1268.69Z" fill="#808080"/>
<path d="M449.08 1273.11 470.78 1290.06 467.24 1294.29 446.77 1275.86Z" fill="#00cc00"/>
<path d="M449.08 1273.11 469.42 1288.99 465.95 1293.13 446.77 1275.86Z" fill="#0000ff"/>
<path d="M449.08 1273.11 455.9 1278.43 453.2 1281.65 446.77 1275.86Z" fill="#808080"/>
<path d="M442.96 1279.67 461.85 1300.65 457.59 1304.23 440.21 1281.98Z" fill="#00cc00"/>
<path d="M442.96 1279.67 460.23 1298.85 456.09 1302.32 440.21 1281.98Z" fill="#0000ff"/>
<path d="M442.96 1279.67 448.86 1286.23 445.64 1288.93 440.21 1281.98Z" fill="#808080"/>
<path d="M435.79 1285.07 453.42 1313.28 448.29 1316.24 432.68 1286.87Z" fill="#00cc00"/>
<path d="M435.79 1285.07 452.22 1311.37 447.23 1314.25 432.68 1286.87Z" fill="#0000ff"/>
<path d="M435.79 1285.07 438.9 1290.06 435.44 1292.06 432.68 1286.87Z" fill="#808080"/>
<path d="M427.79 1289.15 441.16 1322.24 435.44 1324.32 424.41 1290.38Z" fill="#00cc00"/>
<path d="M427.79 1289.15 440.32 1320.15 434.75 1322.18 424.41 1290.38Z" fill="#0000ff"/>
<path d="M427.79 1289.15 430.38 1295.56 426.55 1296.95 424.41 1290.38Z" fill="#808080"/>
<path d="M419.21 1291.77 424.75 1317.87 419.38 1318.81 415.67 1292.4Z" fill="#00cc00"/>
<path d="M419.21 1291.77 424.36 1316 419.11 1316.92 415.67 1292.4Z" fill="#0000ff"/>
<path d="M419.21 1291.77 420.54 1298.03 416.56 1298.73 415.67 1292.4Z" fill="#808080"/>
<path d="M410.3 1292.87 411.11 1316.06 405.89 1316.06 406.7 1292.87Z" fill="#00cc00"/>
<path d="M410.3 1292.87 411.03 1313.98 405.97 1313.98 406.7 1292.87Z" fill="#0000ff"/>
<path d="M410.3 1292.87 410.46 1297.53 406.54 1297.53 406.7 1292.87Z" fill="#808080"/>
<path d="M401.33 1292.4 398.08 1315.55 392.93 1314.64 397.79 1291.77Z" fill="#ff9933"/>
<path d="M401.33 1292.4 398.22 1314.52 393.15 1313.63 397.79 1291.77Z" fill="#00cc00"/>
<path d="M401.33 1292.4 398.75 1310.75 393.94 1309.9 397.79 1291.77Z" fill="#0000ff"/>
<path d="M401.33 1292.4 400.56 1297.87 396.64 1297.18 397.79 1291.77Z" fill="#808080"/>
<path d="M392.59 1290.38 382.79 1320.53 377.33 1318.54 389.21 1289.15Z" fill="#9900cc"/>
<path d="M392.59 1290.38 383.27 1319.04 377.92 1317.1 389.21 1289.15Z" fill="#ff0000"/>
<path d="M392.59 1290.38 383.91 1317.07 378.7 1315.17 389.21 1289.15Z" fill="#ff9933"/>
<path d="M392.59 1290.38 384.56 1315.09 379.48 1313.24 389.21 1289.15Z" fill="#00cc00"/>
<path d="M392.59 1290.38 388.09 1304.21 383.76 1302.63 389.21 1289.15Z" fill="#0000ff"/>
<path d="M392.59 1290.38 391.25 1294.48 387.59 1293.15 389.21 1289.15Z" fill="#808080"/>
<path d="M384.32 1286.87 365.37 1322.51 359.82 1319.31 381.21 1285.07Z" fill="#9900cc"/>
<path d="M384.32 1286.87 366.27 1320.83 360.83 1317.69 381.21 1285.07Z" fill="#ff0000"/>
<path d="M384.32 1286.87 367.81 1317.92 362.57 1314.9 381.21 1285.07Z" fill="#ff9933"/>
<path d="M384.32 1286.87 371.8 1310.42 367.07 1307.69 381.21 1285.07Z" fill="#00cc00"/>
<path d="M384.32 1286.87 377.33 1300.02 373.32 1297.7 381.21 1285.07Z" fill="#0000ff"/>
<path d="M384.32 1286.87 382.38 1290.53 379.02 1288.59 381.21 1285.07Z" fill="#808080"/>
<path d="M376.79 1281.98 341.27 1327.45 335.43 1322.55 374.04 1279.67Z" fill="#9900cc"/>
<path d="M376.79 1281.98 346.29 1321.03 340.88 1316.5 374.04 1279.67Z" fill="#ff0000"/>
<path d="M376.79 1281.98 353.76 1311.47 349 1307.48 374.04 1279.67Z" fill="#ff9933"/>
<path d="M376.79 1281.98 362.72 1300 358.74 1296.66 374.04 1279.67Z" fill="#00cc00"/>
<path d="M376.79 1281.98 368.59 1292.48 365.12 1289.58 374.04 1279.67Z" fill="#0000ff"/>
<path d="M376.79 1281.98 372.32 1287.7 369.18 1285.07 374.04 1279.67Z" fill="#808080"/>
<path d="M370.23 1275.86 308.03 1331.87 301.96 1324.64 367.92 1273.11Z" fill="#9900cc"/>
<path d="M370.23 1275.86 322.07 1319.22 316.85 1313.01 367.92 1273.11Z" fill="#ff0000"/>
<path d="M370.23 1275.86 339.59 1303.45 335.43 1298.49 367.92 1273.11Z" fill="#ff9933"/>
<path d="M370.23 1275.86 351.31 1292.9 347.85 1288.78 367.92 1273.11Z" fill="#00cc00"/>
<path d="M370.23 1275.86 358.39 1286.52 355.37 1282.91 367.92 1273.11Z" fill="#0000ff"/>
<path d="M370.23 1275.86 366.51 1279.21 363.97 1276.19 367.92 1273.11Z" fill="#808080"/>
<path d="M364.83 1268.69 301.78 1308.09 297.39 1300.48 363.03 1265.58Z" fill="#9900cc"/>
<path d="M364.83 1268.69 317.22 1298.44 313.46 1291.93 363.03 1265.58Z" fill="#ff0000"/>
<path d="M364.83 1268.69 328.09 1291.64 324.78 1285.91 363.03 1265.58Z" fill="#ff9933"/>
<path d="M364.83 1268.69 338.97 1284.85 336.11 1279.89 363.03 1265.58Z" fill="#00cc00"/>
<path d="M364.83 1268.69 350.73 1277.5 348.35 1273.38 363.03 1265.58Z" fill="#0000ff"/>
<path d="M364.83 1268.69 359.84 1271.8 357.84 1268.34 363.03 1265.58Z" fill="#808080"/>
<path d="M360.75 1260.69 319.63 1277.31 317.34 1271.02 359.52 1257.31Z" fill="#9900cc"/>
<path d="M360.75 1260.69 322.36 1276.2 320.14 1270.11 359.52 1257.31Z" fill="#ff0000"/>
<path d="M360.75 1260.69 326.05 1274.71 323.93 1268.88 359.52 1257.31Z" fill="#ff9933"/>
<path d="M360.75 1260.69 333.29 1271.79 331.35 1266.47 359.52 1257.31Z" fill="#00cc00"/>
<path d="M360.75 1260.69 342.45 1268.09 340.75 1263.41 359.52 1257.31Z" fill="#0000ff"/>
<path d="M360.75 1260.69 352.57 1264 351.13 1260.04 359.52 1257.31Z" fill="#808080"/>
<path d="M358.13 1252.11 336.95 1256.61 336.07 1251.58 357.5 1248.57Z" fill="#ff0000"/>
<path d="M358.13 1252.11 337.46 1256.5 336.58 1251.51 357.5 1248.57Z" fill="#ff9933"/>
<path d="M358.13 1252.11 338.31 1256.32 337.44 1251.39 357.5 1248.57Z" fill="#00cc00"/>
<path d="M358.13 1252.11 341.53 1255.64 340.7 1250.93 357.5 1248.57Z" fill="#0000ff"/>
<path d="M358.13 1252.11 350.35 1253.76 349.63 1249.67 357.5 1248.57Z" fill="#808080"/>
<path d="M357.03 1243.2 348.39 1243.5 348.39 1239.3 357.03 1239.6Z" fill="#00cc00"/>
<path d="M357.03 1243.2 348.91 1243.48 348.91 1239.32 357.03 1239.6Z" fill="#0000ff"/>
<path d="M357.03 1243.2 351.51 1243.39 351.51 1239.41 357.03 1239.6Z" fill="#808080"/>
<path d="M357.5 1234.23 351.51 1233.39 352.21 1229.44 358.13 1230.69Z" fill="#00cc00"/>
<path d="M357.5 1234.23 352.03 1233.46 352.72 1229.54 358.13 1230.69Z" fill="#0000ff"/>
<path d="M357.5 1234.23 354.26 1233.78 354.92 1230.01 358.13 1230.69Z" fill="#808080"/>
<path d="M359.52 1225.49 353.44 1223.51 354.82 1219.71 360.75 1222.11Z" fill="#00cc00"/>
<path d="M359.52 1225.49 353.77 1223.62 355.14 1219.84 360.75 1222.11Z" fill="#0000ff"/>
<path d="M359.52 1225.49 355.58 1224.21 356.91 1220.56 360.75 1222.11Z" fill="#808080"/>
<path d="M363.03 1217.22 356.46 1213.73 358.52 1210.17 364.83 1214.11Z" fill="#00cc00"/>
<path d="M363.03 1217.22 356.92 1213.98 358.96 1210.45 364.83 1214.11Z" fill="#0000ff"/>
<path d="M363.03 1217.22 358.76 1214.95 360.73 1211.55 364.83 1214.11Z" fill="#808080"/>
<path d="M367.92 1209.69 360.01 1203.52 362.77 1200.23 370.23 1206.94Z" fill="#00cc00"/>
<path d="M367.92 1209.69 360.97 1204.26 363.67 1201.04 370.23 1206.94Z" fill="#0000ff"/>
<path d="M367.92 1209.69 364.52 1207.04 367.02 1204.05 370.23 1206.94Z" fill="#808080"/>
<path d="M374.04 1203.13 364.77 1192.84 368.27 1189.91 376.79 1200.82Z" fill="#00cc00"/>
<path d="M374.04 1203.13 366.63 1194.9 369.98 1192.09 376.79 1200.82Z" fill="#0000ff"/>
<path d="M374.04 1203.13 370.81 1199.54 373.82 1197.01 376.79 1200.82Z" fill="#808080"/>
<path d="M381.21 1197.73 373.96 1186.13 377.9 1183.86 384.32 1195.93Z" fill="#00cc00"/>
<path d="M381.21 1197.73 375.52 1188.63 379.29 1186.46 384.32 1195.93Z" fill="#0000ff"/>
<path d="M381.21 1197.73 379.75 1195.39 383.03 1193.5 384.32 1195.93Z" fill="#808080"/>
<path d="M389.21 1193.65 382.72 1177.6 387.24 1175.95 392.59 1192.42Z" fill="#ff0000"/>
<path d="M389.21 1193.65 382.85 1177.92 387.34 1176.28 392.59 1192.42Z" fill="#ff9933"/>
<path d="M389.21 1193.65 383.05 1178.4 387.5 1176.78 392.59 1192.42Z" fill="#00cc00"/>
<path d="M389.21 1193.65 384.61 1182.26 388.79 1180.74 392.59 1192.42Z" fill="#0000ff"/>
<path d="M389.21 1193.65 388.24 1191.26 391.79 1189.97 392.59 1192.42Z" fill="#808080"/>
<path d="M397.79 1191.03 392.75 1167.31 397.96 1166.39 401.33 1190.4Z" fill="#ff9933"/>
<path d="M397.79 1191.03 392.93 1168.16 398.08 1167.25 401.33 1190.4Z" fill="#00cc00"/>
<path d="M397.79 1191.03 394.48 1175.45 399.12 1174.63 401.33 1190.4Z" fill="#0000ff"/>
<path d="M397.79 1191.03 397.11 1187.82 400.88 1187.16 401.33 1190.4Z" fill="#808080"/>
<path d="M408.5 1241.4L460.5 1241.4A52 52 0 0 1 458.5 1255.69Z" fill="#9900cc"/>
<path d="M408.5 1241.4L458.69 1254.99A52 52 0 0 1 440.82 1282.14Z" fill="#ff0000"/>
<path d="M408.5 1241.4L441.38 1281.68A52 52 0 0 1 378.6 1283.95Z" fill="#ff9933"/>
<path d="M408.5 1241.4L379.2 1284.36A52 52 0 0 1 368.89 1207.71Z" fill="#00cc00"/>
<path d="M408.5 1241.4L368.42 1208.26A52 52 0 0 1 446.05 1205.42Z" fill="#0000ff"/>
<path d="M408.5 1241.4L445.54 1204.9A52 52 0 0 1 460.33 1237.21Z" fill="#808080"/>
<path d="M408.5 1241.4L460.27 1236.48A52 52 0 0 1 460.5 1241.4Z" fill="#ffffff"/>
<circle cx="408.5" cy="1241.4" r="52" fill="none" stroke="#000" stroke-width="1"/>
<text transform="translate(443.59 1145) rotate(20) scale(0.93 1)" text-anchor="middle" font-size="14.4">2.8</text>
<text transform="translate(496.6 1088.81) rotate(30) scale(0.93 1)" text-anchor="middle" font-size="14.4">7.0</text>
<text transform="translate(644.08 960.64) rotate(40) scale(0.93 1)" text-anchor="middle" font-size="14.4">17.9</text>
<text transform="translate(624.82 1059.89) rotate(50) scale(0.93 1)" text-anchor="middle" font-size="14.4">13.1</text>
<text transform="translate(541.05 1164.87) rotate(60) scale(0.93 1)" text-anchor="middle" font-size="14.4">5.7</text>
<text transform="translate(508.36 1205.05) rotate(70) scale(0.93 1)" text-anchor="middle" font-size="14.4">3.0</text>
<text transform="translate(513.85 1222.82) rotate(80) scale(0.93 1)" text-anchor="middle" font-size="14.4">3.1</text>
<text transform="translate(438.85 1324.79) rotate(160) scale(0.93 1)" text-anchor="middle" font-size="14.4">2.0</text>
<text transform="translate(361.76 1322.35) rotate(210) scale(0.93 1)" text-anchor="middle" font-size="14.4">2.3</text>
<text transform="translate(337.15 1326.43) rotate(220) scale(0.93 1)" text-anchor="middle" font-size="14.4">3.3</text>
<text transform="translate(303.33 1329.65) rotate(230) scale(0.93 1)" text-anchor="middle" font-size="14.4">4.8</text>
<text transform="translate(297.8 1305.31) rotate(240) scale(0.93 1)" text-anchor="middle" font-size="14.4">4.3</text>
<text transform="translate(316.87 1274.75) rotate(250) scale(0.93 1)" text-anchor="middle" font-size="14.4">2.5</text>
<text x="532.1" y="1514.7" font-size="18" fill="#9900cc">ws&gt; 10.0 m/s; N=   469,  4.2%</text>
<text x="532.1" y="1532.68" font-size="18" fill="#ff0000">ws&lt; 10.0 m/s; N=  1103,  9.9%</text>
<text x="532.1" y="1550.66" font-size="18" fill="#ff9933">ws&lt;  7.5 m/s; N=  2276, 20.4%</text>
<text x="532.1" y="1568.64" font-size="18" fill="#00cc00">ws&lt;  5.0 m/s; N=  2950, 26.5%</text>
<text x="532.1" y="1586.62" font-size="18" fill="#0000ff">ws&lt;  2.5 m/s; N=  2967, 26.6%</text>
<text x="532.1" y="1604.6" font-size="18" fill="#808080">ws&lt;  1.0 m/s; N=  1212, 10.9%</text>
<text x="194" y="868.9" font-size="30.2" letter-spacing="0.08">C0D680 Twlight(5-8, 17-20)</text></g>
<g><circle cx="1211.5" cy="1241.4" r="156" fill="none" stroke="#333" stroke-width="1" stroke-dasharray="3.4 2.6"/>
<circle cx="1211.5" cy="1241.4" r="260" fill="none" stroke="#333" stroke-width="1" stroke-dasharray="3.4 2.6"/>
<circle cx="1211.5" cy="1241.4" r="363.5" fill="none" stroke="#333" stroke-width="1" stroke-dasharray="3.4 2.6"/>
<path d="M848 1241.4H1575 M1211.5 877.9V1604.9" stroke="#222" stroke-width="1" stroke-dasharray="3.4 2.6" fill="none"/>
<text x="1367.5" y="1240.9" font-size="18"> 6</text>
<text x="1471.5" y="1240.9" font-size="18">12</text>
<text x="1575" y="1240.9" font-size="18">18</text>
<text x="1381.5" y="913.9" font-size="18">Avg wind:059/ 1.35m/s</text>
<text x="1381.5" y="931.8" font-size="18">Avg speed: 3.65m/s</text>
<text x="1381.5" y="949.7" font-size="18">total N=       11155</text>
<text x="1381.5" y="967.6" font-size="18">calm N=    233,   2.1%</text>
<path d="M1209.7 1189.93 1209.21 1175.75 1213.79 1175.75 1213.3 1189.93Z" fill="#ff9933"/>
<path d="M1209.7 1189.93 1209.23 1176.27 1213.77 1176.27 1213.3 1189.93Z" fill="#00cc00"/>
<path d="M1209.7 1189.93 1209.29 1178 1213.71 1178 1213.3 1189.93Z" fill="#0000ff"/>
<path d="M1209.7 1189.93 1209.55 1185.45 1213.45 1185.45 1213.3 1189.93Z" fill="#808080"/>
<path d="M1218.67 1190.4 1221.25 1172.05 1226.06 1172.9 1222.21 1191.03Z" fill="#ff9933"/>
<path d="M1218.67 1190.4 1221.1 1173.08 1225.84 1173.92 1222.21 1191.03Z" fill="#00cc00"/>
<path d="M1218.67 1190.4 1220.45 1177.72 1224.87 1178.5 1222.21 1191.03Z" fill="#0000ff"/>
<path d="M1218.67 1190.4 1219.34 1185.61 1223.21 1186.3 1222.21 1191.03Z" fill="#808080"/>
<path d="M1227.41 1192.42 1238.87 1157.16 1244.68 1159.28 1230.79 1193.65Z" fill="#ff0000"/>
<path d="M1227.41 1192.42 1238.6 1157.99 1244.36 1160.08 1230.79 1193.65Z" fill="#ff9933"/>
<path d="M1227.41 1192.42 1237.64 1160.95 1243.19 1162.97 1230.79 1193.65Z" fill="#00cc00"/>
<path d="M1227.41 1192.42 1233.41 1173.98 1238.06 1175.67 1230.79 1193.65Z" fill="#0000ff"/>
<path d="M1227.41 1192.42 1228.96 1187.66 1232.67 1189.01 1230.79 1193.65Z" fill="#808080"/>
<path d="M1235.68 1195.93 1280.83 1111.01 1289.76 1116.16 1238.79 1197.73Z" fill="#ff0000"/>
<path d="M1235.68 1195.93 1277.41 1117.43 1285.9 1122.33 1238.79 1197.73Z" fill="#ff9933"/>
<path d="M1235.68 1195.93 1269.93 1131.51 1277.45 1135.86 1238.79 1197.73Z" fill="#00cc00"/>
<path d="M1235.68 1195.93 1246.82 1174.98 1251.36 1177.6 1238.79 1197.73Z" fill="#0000ff"/>
<path d="M1235.68 1195.93 1238.03 1191.51 1241.44 1193.48 1238.79 1197.73Z" fill="#808080"/>
<path d="M1243.21 1200.82 1420.23 974.23 1438.36 989.44 1245.96 1203.13Z" fill="#9900cc"/>
<path d="M1243.21 1200.82 1414.9 981.06 1432.56 995.88 1245.96 1203.13Z" fill="#ff0000"/>
<path d="M1243.21 1200.82 1385.55 1018.62 1400.67 1031.31 1245.96 1203.13Z" fill="#ff9933"/>
<path d="M1243.21 1200.82 1320.99 1101.26 1330.5 1109.24 1245.96 1203.13Z" fill="#00cc00"/>
<path d="M1243.21 1200.82 1263.58 1174.74 1268.1 1178.54 1245.96 1203.13Z" fill="#0000ff"/>
<path d="M1243.21 1200.82 1246.82 1196.19 1249.89 1198.76 1245.96 1203.13Z" fill="#808080"/>
<path d="M1249.77 1206.94 1414.64 1058.5 1426.9 1073.11 1252.08 1209.69Z" fill="#9900cc"/>
<path d="M1249.77 1206.94 1412.32 1060.58 1424.44 1075.03 1252.08 1209.69Z" fill="#ff0000"/>
<path d="M1249.77 1206.94 1388.36 1082.16 1399.04 1094.88 1252.08 1209.69Z" fill="#ff9933"/>
<path d="M1249.77 1206.94 1326.92 1137.48 1333.88 1145.78 1252.08 1209.69Z" fill="#00cc00"/>
<path d="M1249.77 1206.94 1271.91 1187 1275.56 1191.35 1252.08 1209.69Z" fill="#0000ff"/>
<path d="M1249.77 1206.94 1253.75 1203.36 1256.3 1206.4 1252.08 1209.69Z" fill="#808080"/>
<path d="M1255.17 1214.11 1336.45 1163.33 1341.59 1172.23 1256.97 1217.22Z" fill="#9900cc"/>
<path d="M1255.17 1214.11 1335.71 1163.78 1340.82 1172.64 1256.97 1217.22Z" fill="#ff0000"/>
<path d="M1255.17 1214.11 1329.1 1167.92 1333.94 1176.3 1256.97 1217.22Z" fill="#ff9933"/>
<path d="M1255.17 1214.11 1307.63 1181.33 1311.59 1188.18 1256.97 1217.22Z" fill="#00cc00"/>
<path d="M1255.17 1214.11 1283.53 1196.39 1286.49 1201.53 1256.97 1217.22Z" fill="#0000ff"/>
<path d="M1255.17 1214.11 1265.45 1207.69 1267.67 1211.54 1256.97 1217.22Z" fill="#808080"/>
<path d="M1259.25 1222.11 1317.41 1198.61 1320.14 1206.1 1260.48 1225.49Z" fill="#ff0000"/>
<path d="M1259.25 1222.11 1315.16 1199.52 1317.83 1206.85 1260.48 1225.49Z" fill="#ff9933"/>
<path d="M1259.25 1222.11 1310.18 1201.53 1312.72 1208.51 1260.48 1225.49Z" fill="#00cc00"/>
<path d="M1259.25 1222.11 1296.03 1207.25 1298.21 1213.23 1260.48 1225.49Z" fill="#0000ff"/>
<path d="M1259.25 1222.11 1271.28 1217.25 1272.82 1221.47 1260.48 1225.49Z" fill="#808080"/>
<path d="M1261.87 1230.69 1326.45 1216.97 1327.88 1225.04 1262.5 1234.23Z" fill="#ff9933"/>
<path d="M1261.87 1230.69 1324.08 1217.47 1325.47 1225.38 1262.5 1234.23Z" fill="#00cc00"/>
<path d="M1261.87 1230.69 1306.62 1221.18 1307.79 1227.87 1262.5 1234.23Z" fill="#0000ff"/>
<path d="M1261.87 1230.69 1276.27 1227.63 1277.07 1232.18 1262.5 1234.23Z" fill="#808080"/>
<path d="M1262.97 1239.6 1307.29 1238.05 1307.29 1244.75 1262.97 1243.2Z" fill="#00cc00"/>
<path d="M1262.97 1239.6 1300.37 1238.3 1300.37 1244.5 1262.97 1243.2Z" fill="#0000ff"/>
<path d="M1262.97 1239.6 1275.77 1239.16 1275.77 1243.64 1262.97 1243.2Z" fill="#808080"/>
<path d="M1262.5 1248.57 1295.26 1253.17 1294.24 1258.99 1261.87 1252.11Z" fill="#00cc00"/>
<path d="M1262.5 1248.57 1293.38 1252.91 1292.37 1258.59 1261.87 1252.11Z" fill="#0000ff"/>
<path d="M1262.5 1248.57 1277.07 1250.62 1276.27 1255.17 1261.87 1252.11Z" fill="#808080"/>
<path d="M1260.48 1257.31 1288.81 1266.52 1286.87 1271.85 1259.25 1260.69Z" fill="#00cc00"/>
<path d="M1260.48 1257.31 1286.51 1265.77 1284.62 1270.94 1259.25 1260.69Z" fill="#0000ff"/>
<path d="M1260.48 1257.31 1273.81 1261.65 1272.25 1265.94 1259.25 1260.69Z" fill="#808080"/>
<path d="M1256.97 1265.58 1285.57 1280.79 1282.65 1285.86 1255.17 1268.69Z" fill="#00cc00"/>
<path d="M1256.97 1265.58 1283.74 1279.81 1280.88 1284.75 1255.17 1268.69Z" fill="#0000ff"/>
<path d="M1256.97 1265.58 1268.59 1271.75 1266.33 1275.66 1255.17 1268.69Z" fill="#808080"/>
<path d="M1252.08 1273.11 1283.89 1297.96 1279.77 1302.87 1249.77 1275.86Z" fill="#00cc00"/>
<path d="M1252.08 1273.11 1281.98 1296.46 1277.97 1301.25 1249.77 1275.86Z" fill="#0000ff"/>
<path d="M1252.08 1273.11 1262.04 1280.88 1259.16 1284.31 1249.77 1275.86Z" fill="#808080"/>
<path d="M1245.96 1279.67 1271.81 1308.38 1266.99 1312.43 1243.21 1281.98Z" fill="#00cc00"/>
<path d="M1245.96 1279.67 1269.84 1306.19 1265.18 1310.1 1243.21 1281.98Z" fill="#0000ff"/>
<path d="M1245.96 1279.67 1256.04 1290.86 1252.48 1293.85 1243.21 1281.98Z" fill="#808080"/>
<path d="M1238.79 1285.07 1272.12 1338.42 1265.21 1342.41 1235.68 1286.87Z" fill="#00cc00"/>
<path d="M1238.79 1285.07 1270.74 1336.21 1263.99 1340.11 1235.68 1286.87Z" fill="#0000ff"/>
<path d="M1238.79 1285.07 1247.51 1299.02 1243.4 1301.39 1235.68 1286.87Z" fill="#808080"/>
<path d="M1230.79 1289.15 1256.56 1352.93 1248.67 1355.81 1227.41 1290.38Z" fill="#00cc00"/>
<path d="M1230.79 1289.15 1255.46 1350.2 1247.76 1353 1227.41 1290.38Z" fill="#0000ff"/>
<path d="M1230.79 1289.15 1235.72 1301.35 1231.48 1302.89 1227.41 1290.38Z" fill="#808080"/>
<path d="M1222.21 1291.77 1234.78 1350.93 1227.08 1352.28 1218.67 1292.4Z" fill="#00cc00"/>
<path d="M1222.21 1291.77 1234.38 1349.06 1226.82 1350.4 1218.67 1292.4Z" fill="#0000ff"/>
<path d="M1222.21 1291.77 1224.73 1303.62 1220.35 1304.39 1218.67 1292.4Z" fill="#808080"/>
<path d="M1213.3 1292.87 1215.06 1343.43 1207.94 1343.43 1209.7 1292.87Z" fill="#00cc00"/>
<path d="M1213.3 1292.87 1214.91 1339.1 1208.09 1339.1 1209.7 1292.87Z" fill="#0000ff"/>
<path d="M1213.3 1292.87 1213.7 1304.45 1209.3 1304.45 1209.7 1292.87Z" fill="#808080"/>
<path d="M1204.33 1292.4 1198.86 1331.34 1192.62 1330.24 1200.79 1291.77Z" fill="#00cc00"/>
<path d="M1204.33 1292.4 1199.9 1323.96 1194.17 1322.95 1200.79 1291.77Z" fill="#0000ff"/>
<path d="M1204.33 1292.4 1203.13 1300.96 1198.99 1300.23 1200.79 1291.77Z" fill="#808080"/>
<path d="M1195.59 1290.38 1181.34 1334.21 1174.94 1331.88 1192.21 1289.15Z" fill="#9900cc"/>
<path d="M1195.59 1290.38 1181.61 1333.4 1175.26 1331.09 1192.21 1289.15Z" fill="#ff0000"/>
<path d="M1195.59 1290.38 1181.93 1332.41 1175.65 1330.13 1192.21 1289.15Z" fill="#ff9933"/>
<path d="M1195.59 1290.38 1182.35 1331.11 1176.16 1328.86 1192.21 1289.15Z" fill="#00cc00"/>
<path d="M1195.59 1290.38 1188.97 1310.74 1184.19 1309 1192.21 1289.15Z" fill="#0000ff"/>
<path d="M1195.59 1290.38 1192.89 1298.69 1188.94 1297.25 1192.21 1289.15Z" fill="#808080"/>
<path d="M1187.32 1286.87 1164.63 1329.55 1158.59 1326.07 1184.21 1285.07Z" fill="#9900cc"/>
<path d="M1187.32 1286.87 1165.6 1327.72 1159.7 1324.31 1184.21 1285.07Z" fill="#ff0000"/>
<path d="M1187.32 1286.87 1167.48 1324.2 1161.81 1320.92 1184.21 1285.07Z" fill="#ff9933"/>
<path d="M1187.32 1286.87 1172.11 1315.47 1167.04 1312.55 1184.21 1285.07Z" fill="#00cc00"/>
<path d="M1187.32 1286.87 1179.36 1301.85 1175.22 1299.46 1184.21 1285.07Z" fill="#0000ff"/>
<path d="M1187.32 1286.87 1183.59 1293.89 1179.99 1291.82 1184.21 1285.07Z" fill="#808080"/>
<path d="M1179.79 1281.98 1145.44 1325.95 1139.71 1321.13 1177.04 1279.67Z" fill="#9900cc"/>
<path d="M1179.79 1281.98 1153.55 1315.57 1148.52 1311.34 1177.04 1279.67Z" fill="#ff0000"/>
<path d="M1179.79 1281.98 1161.02 1306.01 1156.64 1302.33 1177.04 1279.67Z" fill="#ff9933"/>
<path d="M1179.79 1281.98 1169.24 1295.49 1165.57 1292.41 1177.04 1279.67Z" fill="#00cc00"/>
<path d="M1179.79 1281.98 1174.68 1288.52 1171.49 1285.84 1177.04 1279.67Z" fill="#0000ff"/>
<path d="M1179.79 1281.98 1177.56 1284.84 1174.62 1282.36 1177.04 1279.67Z" fill="#808080"/>
<path d="M1173.23 1275.86 1127.26 1317.25 1122.17 1311.19 1170.92 1273.11Z" fill="#9900cc"/>
<path d="M1173.23 1275.86 1142.71 1303.33 1138.56 1298.39 1170.92 1273.11Z" fill="#ff0000"/>
<path d="M1173.23 1275.86 1157.4 1290.11 1154.13 1286.22 1170.92 1273.11Z" fill="#ff9933"/>
<path d="M1173.23 1275.86 1163.32 1284.78 1160.42 1281.31 1170.92 1273.11Z" fill="#00cc00"/>
<path d="M1173.23 1275.86 1168.35 1280.25 1165.74 1277.15 1170.92 1273.11Z" fill="#0000ff"/>
<path d="M1173.23 1275.86 1171.7 1277.24 1169.29 1274.37 1170.92 1273.11Z" fill="#808080"/>
<path d="M1167.83 1268.69 1144.62 1283.19 1141.86 1278.43 1166.03 1265.58Z" fill="#9900cc"/>
<path d="M1167.83 1268.69 1150.5 1279.52 1147.99 1275.17 1166.03 1265.58Z" fill="#ff0000"/>
<path d="M1167.83 1268.69 1154.76 1276.86 1152.42 1272.81 1166.03 1265.58Z" fill="#ff9933"/>
<path d="M1167.83 1268.69 1158.14 1274.74 1155.94 1270.94 1166.03 1265.58Z" fill="#00cc00"/>
<path d="M1167.83 1268.69 1162.4 1272.08 1160.38 1268.58 1166.03 1265.58Z" fill="#0000ff"/>
<path d="M1167.83 1268.69 1164.9 1270.52 1162.98 1267.2 1166.03 1265.58Z" fill="#808080"/>
<path d="M1163.75 1260.69 1147.05 1267.44 1145.4 1262.88 1162.52 1257.31Z" fill="#9900cc"/>
<path d="M1163.75 1260.69 1148.02 1267.05 1146.38 1262.56 1162.52 1257.31Z" fill="#ff0000"/>
<path d="M1163.75 1260.69 1150.11 1266.2 1148.53 1261.86 1162.52 1257.31Z" fill="#ff9933"/>
<path d="M1163.75 1260.69 1152.68 1265.17 1151.16 1261 1162.52 1257.31Z" fill="#00cc00"/>
<path d="M1163.75 1260.69 1156.05 1263.8 1154.63 1259.88 1162.52 1257.31Z" fill="#0000ff"/>
<path d="M1163.75 1260.69 1161.2 1261.72 1159.9 1258.17 1162.52 1257.31Z" fill="#808080"/>
<path d="M1161.13 1252.11 1146.73 1255.17 1145.93 1250.62 1160.5 1248.57Z" fill="#ff0000"/>
<path d="M1161.13 1252.11 1147.07 1255.09 1146.27 1250.57 1160.5 1248.57Z" fill="#ff9933"/>
<path d="M1161.13 1252.11 1147.92 1254.91 1147.13 1250.45 1160.5 1248.57Z" fill="#00cc00"/>
<path d="M1161.13 1252.11 1151.82 1254.09 1151.08 1249.89 1160.5 1248.57Z" fill="#0000ff"/>
<path d="M1161.13 1252.11 1158.26 1252.72 1157.6 1248.97 1160.5 1248.57Z" fill="#808080"/>
<path d="M1160.03 1243.2 1156.24 1243.33 1156.24 1239.47 1160.03 1239.6Z" fill="#0000ff"/>
<path d="M1160.03 1243.2 1157.45 1243.29 1157.45 1239.51 1160.03 1239.6Z" fill="#808080"/>
<path d="M1160.5 1234.23 1156.74 1233.7 1157.41 1229.9 1161.13 1230.69Z" fill="#0000ff"/>
<path d="M1160.5 1234.23 1157.95 1233.87 1158.6 1230.16 1161.13 1230.69Z" fill="#808080"/>
<path d="M1162.52 1225.49 1159.41 1224.47 1160.72 1220.88 1163.75 1222.11Z" fill="#0000ff"/>
<path d="M1162.52 1225.49 1160.4 1224.8 1161.68 1221.27 1163.75 1222.11Z" fill="#808080"/>
<path d="M1166.03 1217.22 1161.76 1214.95 1163.73 1211.55 1167.83 1214.11Z" fill="#0000ff"/>
<path d="M1166.03 1217.22 1162.53 1215.36 1164.46 1212.01 1167.83 1214.11Z" fill="#808080"/>
<path d="M1170.92 1209.69 1167.11 1206.72 1169.64 1203.71 1173.23 1206.94Z" fill="#0000ff"/>
<path d="M1170.92 1209.69 1167.93 1207.36 1170.41 1204.4 1173.23 1206.94Z" fill="#808080"/>
<path d="M1177.04 1203.13 1173.11 1198.76 1176.18 1196.19 1179.79 1200.82Z" fill="#0000ff"/>
<path d="M1177.04 1203.13 1175.31 1201.21 1178.21 1198.78 1179.79 1200.82Z" fill="#808080"/>
<path d="M1184.21 1197.73 1181.92 1194.07 1185.3 1192.12 1187.32 1195.93Z" fill="#0000ff"/>
<path d="M1184.21 1197.73 1182.75 1195.39 1186.03 1193.5 1187.32 1195.93Z" fill="#808080"/>
<path d="M1192.21 1193.65 1189.81 1187.72 1193.61 1186.34 1195.59 1192.42Z" fill="#0000ff"/>
<path d="M1192.21 1193.65 1190.85 1190.29 1194.47 1188.98 1195.59 1192.42Z" fill="#808080"/>
<path d="M1200.79 1191.03 1198.56 1180.53 1202.84 1179.78 1204.33 1190.4Z" fill="#00cc00"/>
<path d="M1200.79 1191.03 1198.92 1182.23 1203.08 1181.5 1204.33 1190.4Z" fill="#0000ff"/>
<path d="M1200.79 1191.03 1200.4 1189.18 1204.07 1188.53 1204.33 1190.4Z" fill="#808080"/>
<path d="M1211.5 1241.4L1263.5 1241.4A52 52 0 0 1 1262.15 1253.15Z" fill="#9900cc"/>
<path d="M1211.5 1241.4L1262.31 1252.45A52 52 0 0 1 1249.84 1276.53Z" fill="#ff0000"/>
<path d="M1211.5 1241.4L1250.33 1275.99A52 52 0 0 1 1199.11 1291.9Z" fill="#ff9933"/>
<path d="M1211.5 1241.4L1199.82 1292.07A52 52 0 0 1 1159.93 1234.73Z" fill="#00cc00"/>
<path d="M1211.5 1241.4L1159.84 1235.45A52 52 0 0 1 1238.31 1196.84Z" fill="#0000ff"/>
<path d="M1211.5 1241.4L1237.68 1196.47A52 52 0 0 1 1263.14 1235.32Z" fill="#808080"/>
<path d="M1211.5 1241.4L1263.05 1234.6A52 52 0 0 1 1263.5 1241.4Z" fill="#ffffff"/>
<circle cx="1211.5" cy="1241.4" r="52" fill="none" stroke="#000" stroke-width="1"/>
<text transform="translate(1242.33 1156.69) rotate(20) scale(0.93 1)" text-anchor="middle" font-size="14.4">2.1</text>
<text transform="translate(1286.45 1111.58) rotate(30) scale(0.93 1)" text-anchor="middle" font-size="14.4">5.5</text>
<text transform="translate(1432.21 978.36) rotate(40) scale(0.93 1)" text-anchor="middle" font-size="14.4">16.6</text>
<text transform="translate(1423.66 1063.38) rotate(50) scale(0.93 1)" text-anchor="middle" font-size="14.4">12.8</text>
<text transform="translate(1341.02 1166.62) rotate(60) scale(0.93 1)" text-anchor="middle" font-size="14.4">5.5</text>
<text transform="translate(1320.58 1201.7) rotate(70) scale(0.93 1)" text-anchor="middle" font-size="14.4">3.6</text>
<text transform="translate(1329.1 1220.66) rotate(80) scale(0.93 1)" text-anchor="middle" font-size="14.4">3.8</text>
<text transform="translate(1309.01 1241.4) rotate(90) scale(0.93 1)" text-anchor="middle" font-size="14.4">2.5</text>
<text transform="translate(1283.11 1301.49) rotate(130) scale(0.93 1)" text-anchor="middle" font-size="14.4">2.3</text>
<text transform="translate(1270.46 1311.67) rotate(140) scale(0.93 1)" text-anchor="middle" font-size="14.4">2.2</text>
<text transform="translate(1269.63 1342.08) rotate(150) scale(0.93 1)" text-anchor="middle" font-size="14.4">3.6</text>
<text transform="translate(1253.3 1356.25) rotate(160) scale(0.93 1)" text-anchor="middle" font-size="14.4">3.9</text>
<text transform="translate(1231.26 1353.48) rotate(170) scale(0.93 1)" text-anchor="middle" font-size="14.4">3.5</text>
<text transform="translate(1211.5 1345.22) rotate(180) scale(0.93 1)" text-anchor="middle" font-size="14.4">2.9</text>
<text transform="translate(1195.45 1332.42) rotate(190) scale(0.93 1)" text-anchor="middle" font-size="14.4">2.2</text>
<text transform="translate(1177.55 1334.67) rotate(200) scale(0.93 1)" text-anchor="middle" font-size="14.4">2.6</text>
<text transform="translate(1160.73 1329.33) rotate(210) scale(0.93 1)" text-anchor="middle" font-size="14.4">2.8</text>
<text transform="translate(1141.39 1324.96) rotate(220) scale(0.93 1)" text-anchor="middle" font-size="14.4">3.2</text>
<text transform="translate(1123.25 1315.45) rotate(230) scale(0.93 1)" text-anchor="middle" font-size="14.4">3.5</text>
<text x="1336.1" y="1514.7" font-size="18" fill="#9900cc">ws&gt; 10.0 m/s; N=   380,  3.4%</text>
<text x="1336.1" y="1532.68" font-size="18" fill="#ff0000">ws&lt; 10.0 m/s; N=   912,  8.2%</text>
<text x="1336.1" y="1550.66" font-size="18" fill="#ff9933">ws&lt;  7.5 m/s; N=  1899, 17.0%</text>
<text x="1336.1" y="1568.64" font-size="18" fill="#00cc00">ws&lt;  5.0 m/s; N=  2590, 23.2%</text>
<text x="1336.1" y="1586.62" font-size="18" fill="#0000ff">ws&lt;  2.5 m/s; N=  3522, 31.6%</text>
<text x="1336.1" y="1604.6" font-size="18" fill="#808080">ws&lt;  1.0 m/s; N=  1619, 14.5%</text>
<text x="1014" y="868.9" font-size="30.2">C0D680 Night time(21-04)</text></g>
<path d="M760 74.8H44.9V816.3H789.8V82" fill="none" stroke="#ff0000" stroke-width="3.4" stroke-linejoin="round"/>
<g>
<rect x="761" y="17" width="84" height="64.5" fill="#fff"/>
<circle cx="802.2" cy="43.9" r="20.2" fill="#fff" stroke="#4a4a4a" stroke-width="1.3"/>
<circle cx="802.2" cy="43.9" r="17.8" fill="none" stroke="#aaa" stroke-width="2.6" stroke-dasharray="1.1 0.9"/>
<circle cx="802.2" cy="43.9" r="15.4" fill="none" stroke="#4a4a4a" stroke-width="1.1"/>
<circle cx="802.2" cy="43.9" r="12.2" fill="none" stroke="#666" stroke-width="1.1" stroke-dasharray="0.9 3.3"/>
<path d="M794.8 36.2 L810 36.2 L802.6 53 Z" fill="#3340ff"/>
<path d="M802.4 34.8 L805.3 38.5 L807.6 40 L807.9 48.5 L802.5 50.5 L796.9 48.5 L797.2 40 L799.5 38.5 Z" fill="#ffee00"/>
<path d="M797.6 43.3 H807.4" stroke="#333" stroke-width="1.2" stroke-dasharray="1.1 0.9"/>
<path d="M798.8 47 H806.2" stroke="#ff7a00" stroke-width="1.3"/>
<text x="0" y="0" transform="translate(774.6 73.8) scale(1.25 1)" font-size="13.6" font-style="italic" fill="#ff4400">S</text>
<text x="0" y="0" transform="translate(785.2 74.6) scale(1.3 1)" font-size="7" font-style="italic" fill="#ff5522">EVERE</text>
<text x="0" y="0" transform="translate(765.2 78.9) scale(1.3 1)" font-size="13" font-style="italic" fill="#0000ff">S</text>
<text x="0" y="0" transform="translate(781.5 78.9) scale(1.45 1)" font-size="5.4" font-style="italic" font-weight="bold" fill="#3344ff">TORM</text>
<text x="0" y="0" transform="translate(815.4 79.2) skewX(-14) scale(0.6 1)" font-size="19.5" font-style="italic" font-weight="bold" fill="#00b000">Lab.</text>
</g>
</svg></body></html>
